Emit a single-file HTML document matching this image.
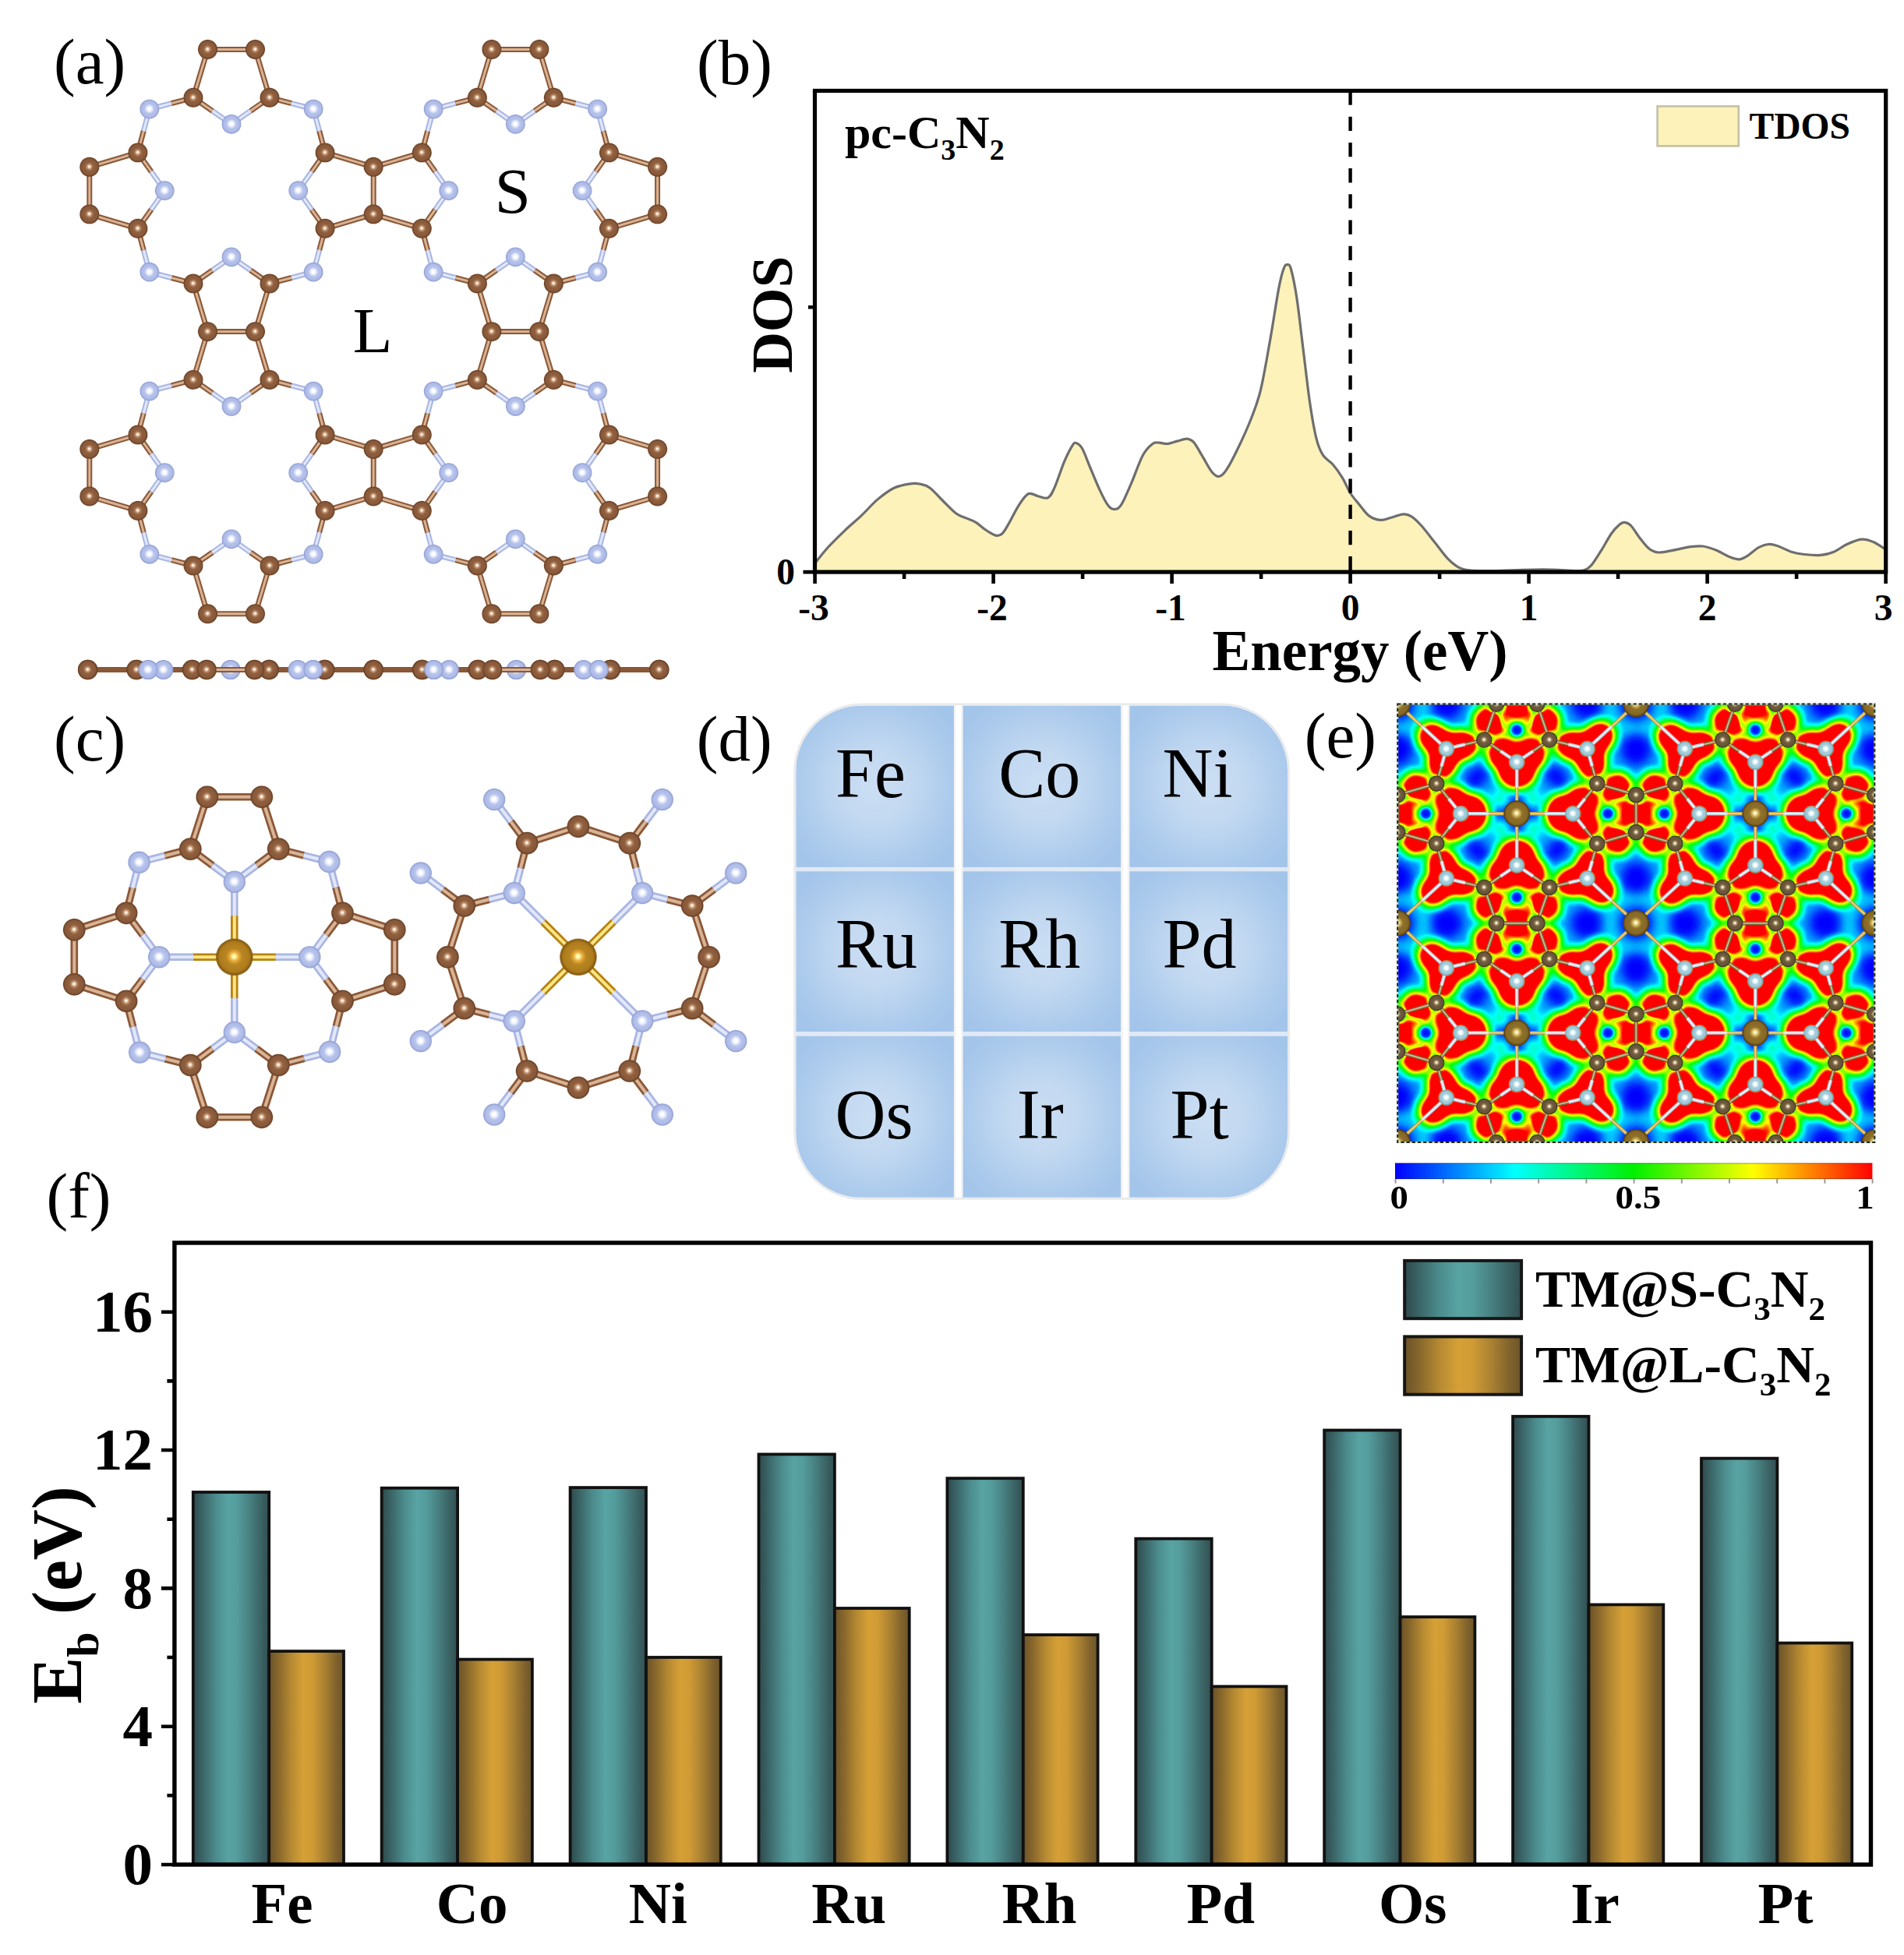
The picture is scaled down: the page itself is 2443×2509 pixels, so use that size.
<!DOCTYPE html>
<html><head><meta charset="utf-8"><title>Figure</title>
<style>html,body{margin:0;padding:0;background:#fff}svg{display:block}text{font-family:"Liberation Serif", "DejaVu Serif", serif}</style>
</head><body>
<svg width="2443" height="2509" viewBox="0 0 2443 2509">
<defs>
<radialGradient id="sC" cx="0.5" cy="0.5" r="0.5" fx="0.49" fy="0.48"><stop offset="0" stop-color="#fff2e4"/><stop offset="0.07" stop-color="#fff2e4"/><stop offset="0.24000000000000002" stop-color="#bd8e6a"/><stop offset="0.43" stop-color="#90603f"/><stop offset="0.8" stop-color="#87583a"/><stop offset="0.94" stop-color="#6c4226"/><stop offset="1" stop-color="#6c4226" stop-opacity="0.5"/></radialGradient>
<radialGradient id="sN" cx="0.5" cy="0.5" r="0.5" fx="0.49" fy="0.48"><stop offset="0" stop-color="#ffffff"/><stop offset="0.13" stop-color="#ffffff"/><stop offset="0.30000000000000004" stop-color="#e3e9fa"/><stop offset="0.49" stop-color="#b7c3eb"/><stop offset="0.8" stop-color="#aebbe7"/><stop offset="0.94" stop-color="#94a2d6"/><stop offset="1" stop-color="#94a2d6" stop-opacity="0.5"/></radialGradient>
<radialGradient id="sM" cx="0.5" cy="0.5" r="0.5" fx="0.49" fy="0.48"><stop offset="0" stop-color="#ffffb4"/><stop offset="0.07" stop-color="#ffffb4"/><stop offset="0.24000000000000002" stop-color="#eaac3c"/><stop offset="0.43" stop-color="#b98622"/><stop offset="0.8" stop-color="#ad7b1c"/><stop offset="0.94" stop-color="#855a10"/><stop offset="1" stop-color="#855a10" stop-opacity="0.5"/></radialGradient>
<radialGradient id="sC2" cx="0.5" cy="0.5" r="0.5" fx="0.49" fy="0.48"><stop offset="0" stop-color="#fff6dc"/><stop offset="0.07" stop-color="#fff6dc"/><stop offset="0.24000000000000002" stop-color="#a8926a"/><stop offset="0.43" stop-color="#6f5b3d"/><stop offset="0.8" stop-color="#66533a"/><stop offset="0.94" stop-color="#453623"/><stop offset="1" stop-color="#453623" stop-opacity="0.5"/></radialGradient>
<radialGradient id="sN2" cx="0.5" cy="0.5" r="0.5" fx="0.49" fy="0.48"><stop offset="0" stop-color="#ffffff"/><stop offset="0.13" stop-color="#ffffff"/><stop offset="0.30000000000000004" stop-color="#dcf0f5"/><stop offset="0.49" stop-color="#a6cfdc"/><stop offset="0.8" stop-color="#9cc6d4"/><stop offset="0.94" stop-color="#6a9aae"/><stop offset="1" stop-color="#6a9aae" stop-opacity="0.5"/></radialGradient>
<radialGradient id="sM2" cx="0.5" cy="0.5" r="0.5" fx="0.49" fy="0.48"><stop offset="0" stop-color="#fff8c8"/><stop offset="0.07" stop-color="#fff8c8"/><stop offset="0.24000000000000002" stop-color="#ceb058"/><stop offset="0.43" stop-color="#8e702a"/><stop offset="0.8" stop-color="#856826"/><stop offset="0.94" stop-color="#584212"/><stop offset="1" stop-color="#584212" stop-opacity="0.5"/></radialGradient>
<radialGradient id="cell" cx="0.5" cy="0.5" r="0.62"><stop offset="0" stop-color="#cbdef3"/><stop offset="0.35" stop-color="#c3d9f1"/><stop offset="0.8" stop-color="#abcaec"/><stop offset="1" stop-color="#a4c5ea"/></radialGradient><clipPath id="gclip"><rect x="1021.3" y="905.6" width="630.7" height="631.2" rx="84" ry="84"/></clipPath>
<filter id="jet" x="0" y="0" width="1" height="1" color-interpolation-filters="sRGB"><feComponentTransfer><feFuncR type="table" tableValues="0 0 0 0 0 0 0 0 0 0 0 0 0 0 0 0 0 0 0 0 0 0 0 0 0.072 0.143 0.215 0.287 0.359 0.43 0.502 0.564 0.626 0.689 0.751 0.813 0.875 0.938 1 1 1 1 1 1 1 1 1 1 1 1 1 1 1 1 1 1 1 1 1 1 1 1 1 1 1 1 1 1 1 1 1 1 1 1 1 1 1 1 1 1 1 1 1 1 1 1 1 1 1 1 1 1 1 1 1 1 1 1 1 1 1"/><feFuncG type="table" tableValues="0 0.092 0.183 0.275 0.366 0.458 0.549 0.639 0.729 0.82 0.91 1 1 1 1 1 1 1 1 1 1 1 1 1 1 1 1 1 1 1 1 1 1 1 1 1 1 1 1 0.929 0.858 0.787 0.715 0.644 0.573 0.502 0.43 0.359 0.287 0.215 0.143 0.072 0 0 0 0 0 0 0 0 0 0 0 0 0 0 0 0 0 0 0 0 0 0 0 0 0 0 0 0 0 0 0 0 0 0 0 0 0 0 0 0 0 0 0 0 0 0 0 0 0"/><feFuncB type="table" tableValues="1 1 1 1 1 1 1 1 1 1 1 1 0.909 0.819 0.728 0.638 0.547 0.463 0.386 0.309 0.232 0.154 0.077 0 0 0 0 0 0 0 0 0 0 0 0 0 0 0 0 0 0 0 0 0 0 0 0 0 0 0 0 0 0 0 0 0 0 0 0 0 0 0 0 0 0 0 0 0 0 0 0 0 0 0 0 0 0 0 0 0 0 0 0 0 0 0 0 0 0 0 0 0 0 0 0 0 0 0 0 0 0"/></feComponentTransfer></filter><filter id="bl1" x="-0.1" y="-0.1" width="1.2" height="1.2" color-interpolation-filters="sRGB"><feGaussianBlur stdDeviation="7.5"/></filter><filter id="bl3" x="-0.1" y="-0.1" width="1.2" height="1.2" color-interpolation-filters="sRGB"><feGaussianBlur stdDeviation="2.2"/></filter><filter id="bl2" x="-0.1" y="-0.1" width="1.2" height="1.2" color-interpolation-filters="sRGB"><feGaussianBlur stdDeviation="6.5"/></filter><clipPath id="mclip"><rect x="1793.2" y="903.5" width="612.1" height="562.6"/></clipPath><linearGradient id="cbar" x1="0" x2="1" y1="0" y2="0"><stop offset="0" stop-color="#0000ff"/><stop offset="0.25" stop-color="#00ffff"/><stop offset="0.5" stop-color="#00f000"/><stop offset="0.75" stop-color="#ffff00"/><stop offset="1" stop-color="#ff0000"/></linearGradient>
<g id="eblob" fill="#fff"><polygon points="-26.1,-140.6 26.1,-140.6 41.9,-94.7 0,-66.2 -41.9,-94.7" fill="#6e6e6e"/><polygon points="153,-24 153,24 103,38.5 72,0 103,-38.5" fill="#6e6e6e"/><polygon points="26.1,140.6 -26.1,140.6 -41.9,94.7 0,66.2 41.9,94.7" fill="#6e6e6e"/><polygon points="-153,24 -153,-24 -103,-38.5 -72,0 -103,38.5" fill="#6e6e6e"/><circle cx="0" cy="-107.4" r="11.5" fill="#000"/><circle cx="-26.1" cy="-140.6" r="15" fill="#626262"/><circle cx="26.1" cy="-140.6" r="15" fill="#626262"/><circle cx="41.9" cy="-94.7" r="15" fill="#626262"/><circle cx="0" cy="-66.2" r="15" fill="#626262"/><circle cx="-41.9" cy="-94.7" r="15" fill="#626262"/><circle cx="90.4" cy="-83.1" r="15" fill="#626262"/><circle cx="116.8" cy="0" r="11.5" fill="#000"/><circle cx="153" cy="-24" r="15" fill="#626262"/><circle cx="153" cy="24" r="15" fill="#626262"/><circle cx="103" cy="38.5" r="15" fill="#626262"/><circle cx="72" cy="0" r="15" fill="#626262"/><circle cx="103" cy="-38.5" r="15" fill="#626262"/><circle cx="90.4" cy="83.1" r="15" fill="#626262"/><circle cx="0" cy="107.4" r="11.5" fill="#000"/><circle cx="26.1" cy="140.6" r="15" fill="#626262"/><circle cx="-26.1" cy="140.6" r="15" fill="#626262"/><circle cx="-41.9" cy="94.7" r="15" fill="#626262"/><circle cx="0" cy="66.2" r="15" fill="#626262"/><circle cx="41.9" cy="94.7" r="15" fill="#626262"/><circle cx="-90.4" cy="83.1" r="15" fill="#626262"/><circle cx="-116.8" cy="0" r="11.5" fill="#000"/><circle cx="-153" cy="24" r="15" fill="#626262"/><circle cx="-153" cy="-24" r="15" fill="#626262"/><circle cx="-103" cy="-38.5" r="15" fill="#626262"/><circle cx="-72" cy="0" r="15" fill="#626262"/><circle cx="-103" cy="38.5" r="15" fill="#626262"/><circle cx="-90.4" cy="-83.1" r="15" fill="#626262"/><ellipse cx="0" cy="-140.6" rx="9.5" ry="15.5"/><ellipse rx="13.5" ry="16.5" transform="translate(36.4 -118.5) rotate(71)"/><ellipse rx="11.5" ry="16" transform="translate(21 -76.8) rotate(145.8)"/><ellipse rx="12.5" ry="16" transform="translate(67.6 -88.5) rotate(13.4)"/><ellipse rx="13.5" ry="16.5" transform="translate(-36.4 -118.5) rotate(109)"/><ellipse rx="11.5" ry="16" transform="translate(-21 -76.8) rotate(34.2)"/><ellipse rx="12.5" ry="16" transform="translate(-67.6 -88.5) rotate(166.6)"/><ellipse cx="0" cy="-66.2" rx="20" ry="20"/><ellipse cx="0" cy="-54.2" rx="22" ry="19"/><ellipse cx="90.4" cy="-83.1" rx="20" ry="20"/><ellipse rx="17.5" ry="15.5" transform="translate(106 -98.7) rotate(135)"/><ellipse rx="9.5" ry="15.5" transform="translate(153 0) rotate(90)"/><ellipse rx="13.5" ry="16.5" transform="translate(128.9 33.4) rotate(161)"/><ellipse rx="11.5" ry="16" transform="translate(83.6 19.3) rotate(55.8)"/><ellipse rx="12.5" ry="16" transform="translate(96.3 62.2) rotate(103.4)"/><ellipse rx="13.5" ry="16.5" transform="translate(128.9 -33.4) rotate(19)"/><ellipse rx="11.5" ry="16" transform="translate(83.6 -19.3) rotate(124.2)"/><ellipse rx="12.5" ry="16" transform="translate(96.3 -62.2) rotate(76.6)"/><ellipse cx="72" cy="0" rx="20" ry="20"/><ellipse rx="22" ry="19" transform="translate(59 0) rotate(90)"/><ellipse cx="90.4" cy="83.1" rx="20" ry="20"/><ellipse rx="17.5" ry="15.5" transform="translate(107.4 97.4) rotate(45)"/><ellipse cx="0" cy="140.6" rx="9.5" ry="15.5"/><ellipse rx="13.5" ry="16.5" transform="translate(-36.4 118.5) rotate(71)"/><ellipse rx="11.5" ry="16" transform="translate(-21 76.8) rotate(145.8)"/><ellipse rx="12.5" ry="16" transform="translate(-67.6 88.5) rotate(13.4)"/><ellipse rx="13.5" ry="16.5" transform="translate(36.4 118.5) rotate(109)"/><ellipse rx="11.5" ry="16" transform="translate(21 76.8) rotate(34.2)"/><ellipse rx="12.5" ry="16" transform="translate(67.6 88.5) rotate(166.6)"/><ellipse cx="0" cy="66.2" rx="20" ry="20"/><ellipse cx="0" cy="54.2" rx="22" ry="19"/><ellipse cx="-90.4" cy="83.1" rx="20" ry="20"/><ellipse rx="17.5" ry="15.5" transform="translate(-106 98.7) rotate(135)"/><ellipse rx="9.5" ry="15.5" transform="translate(-153 0) rotate(90)"/><ellipse rx="13.5" ry="16.5" transform="translate(-128.9 -33.4) rotate(161)"/><ellipse rx="11.5" ry="16" transform="translate(-83.6 -19.3) rotate(55.8)"/><ellipse rx="12.5" ry="16" transform="translate(-96.3 -62.2) rotate(103.4)"/><ellipse rx="13.5" ry="16.5" transform="translate(-128.9 33.4) rotate(19)"/><ellipse rx="11.5" ry="16" transform="translate(-83.6 19.3) rotate(124.2)"/><ellipse rx="12.5" ry="16" transform="translate(-96.3 62.2) rotate(76.6)"/><ellipse cx="-72" cy="0" rx="20" ry="20"/><ellipse rx="22" ry="19" transform="translate(-59 0) rotate(90)"/><ellipse cx="-90.4" cy="-83.1" rx="20" ry="20"/><ellipse rx="17.5" ry="15.5" transform="translate(-107.4 -97.4) rotate(45)"/></g>
<g id="ecut"><path d="M41.9 -94.7L51.7 -66.3M41.9 -94.7L66.7 -111.5M41.9 -94.7L12.7 -101.6M-41.9 -94.7L-51.7 -66.3M-41.9 -94.7L-66.7 -111.5M-41.9 -94.7L-12.7 -101.6M26.1 -140.6L56.1 -140.6M26.1 -140.6L16.3 -169M26.1 -140.6L16.3 -112.3M-26.1 -140.6L-56.1 -140.6M-26.1 -140.6L-16.3 -169M-26.1 -140.6L-16.3 -112.3M103 38.5L72.1 47.5M103 38.5L121.3 61.4M103 38.5L110.5 11.7M103 -38.5L72.1 -47.5M103 -38.5L121.3 -61.4M103 -38.5L110.5 -11.7M153 24L153 51.5M153 24L183.9 15M153 24L122.2 15M153 -24L153 -51.5M153 -24L183.9 -15M153 -24L122.2 -15M-41.9 94.7L-51.7 66.3M-41.9 94.7L-66.7 111.5M-41.9 94.7L-12.7 101.6M41.9 94.7L51.7 66.3M41.9 94.7L66.7 111.5M41.9 94.7L12.7 101.6M-26.1 140.6L-56.1 140.6M-26.1 140.6L-16.3 169M-26.1 140.6L-16.3 112.3M26.1 140.6L56.1 140.6M26.1 140.6L16.3 169M26.1 140.6L16.3 112.3M-103 -38.5L-72.1 -47.5M-103 -38.5L-121.3 -61.4M-103 -38.5L-110.5 -11.7M-103 38.5L-72.1 47.5M-103 38.5L-121.3 61.4M-103 38.5L-110.5 11.7M-153 -24L-153 -51.5M-153 -24L-183.9 -15M-153 -24L-122.2 -15M-153 24L-153 51.5M-153 24L-183.9 15M-153 24L-122.2 15" stroke="#000" stroke-opacity="0.62" stroke-width="5.5" stroke-linecap="round" fill="none"/><circle cx="41.9" cy="-94.7" r="13" fill="#000" fill-opacity="0.6"/><circle cx="-41.9" cy="-94.7" r="13" fill="#000" fill-opacity="0.6"/><circle cx="26.1" cy="-140.6" r="13" fill="#000" fill-opacity="0.6"/><circle cx="-26.1" cy="-140.6" r="13" fill="#000" fill-opacity="0.6"/><circle cx="0" cy="-66.2" r="13" fill="#000" fill-opacity="0.6"/><circle cx="90.4" cy="-83.1" r="13" fill="#000" fill-opacity="0.6"/><circle cx="103" cy="38.5" r="13" fill="#000" fill-opacity="0.6"/><circle cx="103" cy="-38.5" r="13" fill="#000" fill-opacity="0.6"/><circle cx="153" cy="24" r="13" fill="#000" fill-opacity="0.6"/><circle cx="153" cy="-24" r="13" fill="#000" fill-opacity="0.6"/><circle cx="72" cy="0" r="13" fill="#000" fill-opacity="0.6"/><circle cx="90.4" cy="83.1" r="13" fill="#000" fill-opacity="0.6"/><circle cx="-41.9" cy="94.7" r="13" fill="#000" fill-opacity="0.6"/><circle cx="41.9" cy="94.7" r="13" fill="#000" fill-opacity="0.6"/><circle cx="-26.1" cy="140.6" r="13" fill="#000" fill-opacity="0.6"/><circle cx="26.1" cy="140.6" r="13" fill="#000" fill-opacity="0.6"/><circle cx="0" cy="66.2" r="13" fill="#000" fill-opacity="0.6"/><circle cx="-90.4" cy="83.1" r="13" fill="#000" fill-opacity="0.6"/><circle cx="-103" cy="-38.5" r="13" fill="#000" fill-opacity="0.6"/><circle cx="-103" cy="38.5" r="13" fill="#000" fill-opacity="0.6"/><circle cx="-153" cy="-24" r="13" fill="#000" fill-opacity="0.6"/><circle cx="-153" cy="24" r="13" fill="#000" fill-opacity="0.6"/><circle cx="-72" cy="0" r="13" fill="#000" fill-opacity="0.6"/><circle cx="-90.4" cy="-83.1" r="13" fill="#000" fill-opacity="0.6"/></g>
<g id="ectr"><circle cx="0" cy="-107.4" r="8" fill="#000" fill-opacity="0.92"/><circle cx="116.8" cy="0" r="8" fill="#000" fill-opacity="0.92"/><circle cx="0" cy="107.4" r="8" fill="#000" fill-opacity="0.92"/><circle cx="-116.8" cy="0" r="8" fill="#000" fill-opacity="0.92"/></g>
<g id="edif"><circle cx="21" cy="-20" r="9.5" fill="#2a2a2a"/><circle cx="21.8" cy="19.3" r="9.5" fill="#2a2a2a"/><circle cx="-21" cy="20" r="9.5" fill="#2a2a2a"/><circle cx="-21.8" cy="-19.3" r="9.5" fill="#2a2a2a"/><circle r="15" fill="#000"/><rect x="-27" y="-6" width="54" height="12" fill="#000"/><rect x="-6" y="-26" width="12" height="52" fill="#000"/><ellipse rx="17" ry="12" transform="translate(50.5 -47.5) rotate(45)" fill="#000"/><ellipse rx="17" ry="12" transform="translate(51.7 46.4) rotate(135)" fill="#000"/><ellipse rx="17" ry="12" transform="translate(-50.5 47.5) rotate(225)" fill="#000"/><ellipse rx="17" ry="12" transform="translate(-51.7 -46.4) rotate(315)" fill="#000"/><circle cx="153" cy="140.6" r="36" fill="none" stroke="#181818" stroke-width="15"/><circle cx="153" cy="140.6" r="21" fill="#000"/><ellipse cx="216" cy="140.6" rx="21" ry="20" fill="#000"/><ellipse cx="153" cy="198.6" rx="20" ry="21" fill="#000"/><ellipse cx="90" cy="140.6" rx="21" ry="20" fill="#000"/><ellipse cx="153" cy="82.7" rx="20" ry="21" fill="#000"/></g>
<g id="eatom"><g stroke-linecap="butt" fill="none"><path d="M0 -66.2L-21 -80.4" stroke="#b8c4cc" stroke-width="4.6"/><path d="M0 -66.2L-21 -80.4" stroke="#f0f4f6" stroke-width="1.9"/><path d="M-21 -80.4L-41.9 -94.7" stroke="#7a6238" stroke-width="4.6"/><path d="M-21 -80.4L-41.9 -94.7" stroke="#cdb98a" stroke-width="1.9"/><path d="M0 -66.2L21 -80.4" stroke="#b8c4cc" stroke-width="4.6"/><path d="M0 -66.2L21 -80.4" stroke="#f0f4f6" stroke-width="1.9"/><path d="M21 -80.4L41.9 -94.7" stroke="#7a6238" stroke-width="4.6"/><path d="M21 -80.4L41.9 -94.7" stroke="#cdb98a" stroke-width="1.9"/><path d="M-41.9 -94.7L-26.1 -140.6" stroke="#7a6238" stroke-width="4.6"/><path d="M-41.9 -94.7L-26.1 -140.6" stroke="#cdb98a" stroke-width="1.9"/><path d="M41.9 -94.7L26.1 -140.6" stroke="#7a6238" stroke-width="4.6"/><path d="M41.9 -94.7L26.1 -140.6" stroke="#cdb98a" stroke-width="1.9"/><path d="M-26.1 -140.6L26.1 -140.6" stroke="#7a6238" stroke-width="4.6"/><path d="M-26.1 -140.6L26.1 -140.6" stroke="#cdb98a" stroke-width="1.9"/><path d="M41.9 -94.7L66.2 -88.9" stroke="#7a6238" stroke-width="4.6"/><path d="M41.9 -94.7L66.2 -88.9" stroke="#cdb98a" stroke-width="1.9"/><path d="M66.2 -88.9L90.4 -83.1" stroke="#b8c4cc" stroke-width="4.6"/><path d="M66.2 -88.9L90.4 -83.1" stroke="#f0f4f6" stroke-width="1.9"/><path d="M90.4 -83.1L96.7 -60.8" stroke="#b8c4cc" stroke-width="4.6"/><path d="M90.4 -83.1L96.7 -60.8" stroke="#f0f4f6" stroke-width="1.9"/><path d="M96.7 -60.8L103 -38.5" stroke="#7a6238" stroke-width="4.6"/><path d="M96.7 -60.8L103 -38.5" stroke="#cdb98a" stroke-width="1.9"/><path d="M72 0L87.5 -19.3" stroke="#b8c4cc" stroke-width="4.6"/><path d="M72 0L87.5 -19.3" stroke="#f0f4f6" stroke-width="1.9"/><path d="M87.5 -19.3L103 -38.5" stroke="#7a6238" stroke-width="4.6"/><path d="M87.5 -19.3L103 -38.5" stroke="#cdb98a" stroke-width="1.9"/><path d="M72 0L87.5 19.3" stroke="#b8c4cc" stroke-width="4.6"/><path d="M72 0L87.5 19.3" stroke="#f0f4f6" stroke-width="1.9"/><path d="M87.5 19.3L103 38.5" stroke="#7a6238" stroke-width="4.6"/><path d="M87.5 19.3L103 38.5" stroke="#cdb98a" stroke-width="1.9"/><path d="M103 -38.5L153 -24" stroke="#7a6238" stroke-width="4.6"/><path d="M103 -38.5L153 -24" stroke="#cdb98a" stroke-width="1.9"/><path d="M103 38.5L153 24" stroke="#7a6238" stroke-width="4.6"/><path d="M103 38.5L153 24" stroke="#cdb98a" stroke-width="1.9"/><path d="M153 -24L153 24" stroke="#7a6238" stroke-width="4.6"/><path d="M153 -24L153 24" stroke="#cdb98a" stroke-width="1.9"/><path d="M103 38.5L96.7 60.8" stroke="#7a6238" stroke-width="4.6"/><path d="M103 38.5L96.7 60.8" stroke="#cdb98a" stroke-width="1.9"/><path d="M96.7 60.8L90.4 83.1" stroke="#b8c4cc" stroke-width="4.6"/><path d="M96.7 60.8L90.4 83.1" stroke="#f0f4f6" stroke-width="1.9"/><path d="M90.4 83.1L66.2 88.9" stroke="#b8c4cc" stroke-width="4.6"/><path d="M90.4 83.1L66.2 88.9" stroke="#f0f4f6" stroke-width="1.9"/><path d="M66.2 88.9L41.9 94.7" stroke="#7a6238" stroke-width="4.6"/><path d="M66.2 88.9L41.9 94.7" stroke="#cdb98a" stroke-width="1.9"/><path d="M0 66.2L21 80.4" stroke="#b8c4cc" stroke-width="4.6"/><path d="M0 66.2L21 80.4" stroke="#f0f4f6" stroke-width="1.9"/><path d="M21 80.4L41.9 94.7" stroke="#7a6238" stroke-width="4.6"/><path d="M21 80.4L41.9 94.7" stroke="#cdb98a" stroke-width="1.9"/><path d="M0 66.2L-21 80.4" stroke="#b8c4cc" stroke-width="4.6"/><path d="M0 66.2L-21 80.4" stroke="#f0f4f6" stroke-width="1.9"/><path d="M-21 80.4L-41.9 94.7" stroke="#7a6238" stroke-width="4.6"/><path d="M-21 80.4L-41.9 94.7" stroke="#cdb98a" stroke-width="1.9"/><path d="M41.9 94.7L26.1 140.6" stroke="#7a6238" stroke-width="4.6"/><path d="M41.9 94.7L26.1 140.6" stroke="#cdb98a" stroke-width="1.9"/><path d="M-41.9 94.7L-26.1 140.6" stroke="#7a6238" stroke-width="4.6"/><path d="M-41.9 94.7L-26.1 140.6" stroke="#cdb98a" stroke-width="1.9"/><path d="M26.1 140.6L-26.1 140.6" stroke="#7a6238" stroke-width="4.6"/><path d="M26.1 140.6L-26.1 140.6" stroke="#cdb98a" stroke-width="1.9"/><path d="M-41.9 94.7L-66.2 88.9" stroke="#7a6238" stroke-width="4.6"/><path d="M-41.9 94.7L-66.2 88.9" stroke="#cdb98a" stroke-width="1.9"/><path d="M-66.2 88.9L-90.4 83.1" stroke="#b8c4cc" stroke-width="4.6"/><path d="M-66.2 88.9L-90.4 83.1" stroke="#f0f4f6" stroke-width="1.9"/><path d="M-90.4 83.1L-96.7 60.8" stroke="#b8c4cc" stroke-width="4.6"/><path d="M-90.4 83.1L-96.7 60.8" stroke="#f0f4f6" stroke-width="1.9"/><path d="M-96.7 60.8L-103 38.5" stroke="#7a6238" stroke-width="4.6"/><path d="M-96.7 60.8L-103 38.5" stroke="#cdb98a" stroke-width="1.9"/><path d="M-72 0L-87.5 19.3" stroke="#b8c4cc" stroke-width="4.6"/><path d="M-72 0L-87.5 19.3" stroke="#f0f4f6" stroke-width="1.9"/><path d="M-87.5 19.3L-103 38.5" stroke="#7a6238" stroke-width="4.6"/><path d="M-87.5 19.3L-103 38.5" stroke="#cdb98a" stroke-width="1.9"/><path d="M-72 0L-87.5 -19.3" stroke="#b8c4cc" stroke-width="4.6"/><path d="M-72 0L-87.5 -19.3" stroke="#f0f4f6" stroke-width="1.9"/><path d="M-87.5 -19.3L-103 -38.5" stroke="#7a6238" stroke-width="4.6"/><path d="M-87.5 -19.3L-103 -38.5" stroke="#cdb98a" stroke-width="1.9"/><path d="M-103 38.5L-153 24" stroke="#7a6238" stroke-width="4.6"/><path d="M-103 38.5L-153 24" stroke="#cdb98a" stroke-width="1.9"/><path d="M-103 -38.5L-153 -24" stroke="#7a6238" stroke-width="4.6"/><path d="M-103 -38.5L-153 -24" stroke="#cdb98a" stroke-width="1.9"/><path d="M-153 24L-153 -24" stroke="#7a6238" stroke-width="4.6"/><path d="M-153 24L-153 -24" stroke="#cdb98a" stroke-width="1.9"/><path d="M-103 -38.5L-96.7 -60.8" stroke="#7a6238" stroke-width="4.6"/><path d="M-103 -38.5L-96.7 -60.8" stroke="#cdb98a" stroke-width="1.9"/><path d="M-96.7 -60.8L-90.4 -83.1" stroke="#b8c4cc" stroke-width="4.6"/><path d="M-96.7 -60.8L-90.4 -83.1" stroke="#f0f4f6" stroke-width="1.9"/><path d="M-90.4 -83.1L-66.2 -88.9" stroke="#b8c4cc" stroke-width="4.6"/><path d="M-90.4 -83.1L-66.2 -88.9" stroke="#f0f4f6" stroke-width="1.9"/><path d="M-66.2 -88.9L-41.9 -94.7" stroke="#7a6238" stroke-width="4.6"/><path d="M-66.2 -88.9L-41.9 -94.7" stroke="#cdb98a" stroke-width="1.9"/><path d="M0 0L0 -33.1" stroke="#b89a3c" stroke-width="4.6"/><path d="M0 0L0 -33.1" stroke="#ecd884" stroke-width="1.9"/><path d="M0 -33.1L0 -66.2" stroke="#b8c4cc" stroke-width="4.6"/><path d="M0 -33.1L0 -66.2" stroke="#f0f4f6" stroke-width="1.9"/><path d="M153 -140.6L121.7 -111.9" stroke="#b89a3c" stroke-width="4.6"/><path d="M153 -140.6L121.7 -111.9" stroke="#ecd884" stroke-width="1.9"/><path d="M121.7 -111.9L90.4 -83.1" stroke="#b8c4cc" stroke-width="4.6"/><path d="M121.7 -111.9L90.4 -83.1" stroke="#f0f4f6" stroke-width="1.9"/><path d="M0 0L36 0" stroke="#b89a3c" stroke-width="4.6"/><path d="M0 0L36 0" stroke="#ecd884" stroke-width="1.9"/><path d="M36 0L72 0" stroke="#b8c4cc" stroke-width="4.6"/><path d="M36 0L72 0" stroke="#f0f4f6" stroke-width="1.9"/><path d="M153 140.6L121.7 111.9" stroke="#b89a3c" stroke-width="4.6"/><path d="M153 140.6L121.7 111.9" stroke="#ecd884" stroke-width="1.9"/><path d="M121.7 111.9L90.4 83.1" stroke="#b8c4cc" stroke-width="4.6"/><path d="M121.7 111.9L90.4 83.1" stroke="#f0f4f6" stroke-width="1.9"/><path d="M0 0L0 33.1" stroke="#b89a3c" stroke-width="4.6"/><path d="M0 0L0 33.1" stroke="#ecd884" stroke-width="1.9"/><path d="M0 33.1L0 66.2" stroke="#b8c4cc" stroke-width="4.6"/><path d="M0 33.1L0 66.2" stroke="#f0f4f6" stroke-width="1.9"/><path d="M-153 140.6L-121.7 111.9" stroke="#b89a3c" stroke-width="4.6"/><path d="M-153 140.6L-121.7 111.9" stroke="#ecd884" stroke-width="1.9"/><path d="M-121.7 111.9L-90.4 83.1" stroke="#b8c4cc" stroke-width="4.6"/><path d="M-121.7 111.9L-90.4 83.1" stroke="#f0f4f6" stroke-width="1.9"/><path d="M0 0L-36 0" stroke="#b89a3c" stroke-width="4.6"/><path d="M0 0L-36 0" stroke="#ecd884" stroke-width="1.9"/><path d="M-36 0L-72 0" stroke="#b8c4cc" stroke-width="4.6"/><path d="M-36 0L-72 0" stroke="#f0f4f6" stroke-width="1.9"/><path d="M-153 -140.6L-121.7 -111.9" stroke="#b89a3c" stroke-width="4.6"/><path d="M-153 -140.6L-121.7 -111.9" stroke="#ecd884" stroke-width="1.9"/><path d="M-121.7 -111.9L-90.4 -83.1" stroke="#b8c4cc" stroke-width="4.6"/><path d="M-121.7 -111.9L-90.4 -83.1" stroke="#f0f4f6" stroke-width="1.9"/></g><circle cx="0" cy="-66.2" r="10" fill="url(#sN2)"/><circle cx="-41.9" cy="-94.7" r="10.4" fill="url(#sC2)"/><circle cx="41.9" cy="-94.7" r="10.4" fill="url(#sC2)"/><circle cx="-26.1" cy="-140.6" r="10.4" fill="url(#sC2)"/><circle cx="26.1" cy="-140.6" r="10.4" fill="url(#sC2)"/><circle cx="90.4" cy="-83.1" r="10" fill="url(#sN2)"/><circle cx="72" cy="0" r="10" fill="url(#sN2)"/><circle cx="103" cy="-38.5" r="10.4" fill="url(#sC2)"/><circle cx="103" cy="38.5" r="10.4" fill="url(#sC2)"/><circle cx="153" cy="-24" r="10.4" fill="url(#sC2)"/><circle cx="153" cy="24" r="10.4" fill="url(#sC2)"/><circle cx="90.4" cy="83.1" r="10" fill="url(#sN2)"/><circle cx="0" cy="66.2" r="10" fill="url(#sN2)"/><circle cx="41.9" cy="94.7" r="10.4" fill="url(#sC2)"/><circle cx="-41.9" cy="94.7" r="10.4" fill="url(#sC2)"/><circle cx="26.1" cy="140.6" r="10.4" fill="url(#sC2)"/><circle cx="-26.1" cy="140.6" r="10.4" fill="url(#sC2)"/><circle cx="-90.4" cy="83.1" r="10" fill="url(#sN2)"/><circle cx="-72" cy="0" r="10" fill="url(#sN2)"/><circle cx="-103" cy="38.5" r="10.4" fill="url(#sC2)"/><circle cx="-103" cy="-38.5" r="10.4" fill="url(#sC2)"/><circle cx="-153" cy="24" r="10.4" fill="url(#sC2)"/><circle cx="-153" cy="-24" r="10.4" fill="url(#sC2)"/><circle cx="-90.4" cy="-83.1" r="10" fill="url(#sN2)"/><circle cx="0" cy="0" r="17.2" fill="url(#sM2)"/></g>
<g id="eblobsall" filter="url(#bl1)"><use href="#eblob" x="1640.2" y="762.9"/><use href="#eblob" x="1640.2" y="1044.2"/><use href="#eblob" x="1640.2" y="1325.5"/><use href="#eblob" x="1946.2" y="762.9"/><use href="#eblob" x="1946.2" y="1044.2"/><use href="#eblob" x="1946.2" y="1325.5"/><use href="#eblob" x="2252.3" y="762.9"/><use href="#eblob" x="2252.3" y="1044.2"/><use href="#eblob" x="2252.3" y="1325.5"/></g><mask id="emask" maskUnits="userSpaceOnUse" x="1753.2" y="863.5" width="692.1" height="642.6"><use href="#eblobsall"/></mask>
<linearGradient id="gt" x1="0" x2="1" y1="0" y2="0"><stop offset="0" stop-color="#2f4a4c"/><stop offset="0.12" stop-color="#3a6466"/><stop offset="0.3" stop-color="#4c8c8d"/><stop offset="0.46" stop-color="#58a3a3"/><stop offset="0.58" stop-color="#559d9d"/><stop offset="0.75" stop-color="#477f80"/><stop offset="0.9" stop-color="#3a6163"/><stop offset="1" stop-color="#324f51"/></linearGradient><linearGradient id="gg" x1="0" x2="1" y1="0" y2="0"><stop offset="0" stop-color="#6a5228"/><stop offset="0.12" stop-color="#86662c"/><stop offset="0.3" stop-color="#b68a32"/><stop offset="0.46" stop-color="#d6a036"/><stop offset="0.58" stop-color="#d09b35"/><stop offset="0.75" stop-color="#a88031"/><stop offset="0.9" stop-color="#80622c"/><stop offset="1" stop-color="#6c5429"/></linearGradient>
</defs>
<rect width="2443" height="2509" fill="#fff"/>
<g id="pa">
<g stroke-linecap="butt" fill="none">
<path d="M297 159.4L272.5 142.3" stroke="#a9b6e2" stroke-width="7"/><path d="M297 159.4L272.5 142.3" stroke="#e2e8fa" stroke-width="2.9"/><path d="M272.5 142.3L248 125.3" stroke="#8a5838" stroke-width="7"/><path d="M272.5 142.3L248 125.3" stroke="#d9b495" stroke-width="2.9"/>
<path d="M297 159.4L321.5 142.3" stroke="#a9b6e2" stroke-width="7"/><path d="M297 159.4L321.5 142.3" stroke="#e2e8fa" stroke-width="2.9"/><path d="M321.5 142.3L346 125.3" stroke="#8a5838" stroke-width="7"/><path d="M321.5 142.3L346 125.3" stroke="#d9b495" stroke-width="2.9"/>
<path d="M248 125.3L266.5 63.5" stroke="#8a5838" stroke-width="7"/><path d="M248 125.3L266.5 63.5" stroke="#d9b495" stroke-width="2.9"/>
<path d="M346 125.3L327.5 63.5" stroke="#8a5838" stroke-width="7"/><path d="M346 125.3L327.5 63.5" stroke="#d9b495" stroke-width="2.9"/>
<path d="M266.5 63.5L327.5 63.5" stroke="#8a5838" stroke-width="7"/><path d="M266.5 63.5L327.5 63.5" stroke="#d9b495" stroke-width="2.9"/>
<path d="M346 125.3L374.1 132.7" stroke="#8a5838" stroke-width="7"/><path d="M346 125.3L374.1 132.7" stroke="#d9b495" stroke-width="2.9"/><path d="M374.1 132.7L402.2 140" stroke="#a9b6e2" stroke-width="7"/><path d="M374.1 132.7L402.2 140" stroke="#e2e8fa" stroke-width="2.9"/>
<path d="M402.2 140L409.7 168" stroke="#a9b6e2" stroke-width="7"/><path d="M402.2 140L409.7 168" stroke="#e2e8fa" stroke-width="2.9"/><path d="M409.7 168L417.1 195.9" stroke="#8a5838" stroke-width="7"/><path d="M409.7 168L417.1 195.9" stroke="#d9b495" stroke-width="2.9"/>
<path d="M382.7 244.6L399.9 220.3" stroke="#a9b6e2" stroke-width="7"/><path d="M382.7 244.6L399.9 220.3" stroke="#e2e8fa" stroke-width="2.9"/><path d="M399.9 220.3L417.1 195.9" stroke="#8a5838" stroke-width="7"/><path d="M399.9 220.3L417.1 195.9" stroke="#d9b495" stroke-width="2.9"/>
<path d="M382.7 244.6L399.9 268.9" stroke="#a9b6e2" stroke-width="7"/><path d="M382.7 244.6L399.9 268.9" stroke="#e2e8fa" stroke-width="2.9"/><path d="M399.9 268.9L417.1 293.3" stroke="#8a5838" stroke-width="7"/><path d="M399.9 268.9L417.1 293.3" stroke="#d9b495" stroke-width="2.9"/>
<path d="M417.1 195.9L479.2 214.3" stroke="#8a5838" stroke-width="7"/><path d="M417.1 195.9L479.2 214.3" stroke="#d9b495" stroke-width="2.9"/>
<path d="M417.1 293.3L479.2 274.9" stroke="#8a5838" stroke-width="7"/><path d="M417.1 293.3L479.2 274.9" stroke="#d9b495" stroke-width="2.9"/>
<path d="M479.2 214.3L479.2 274.9" stroke="#8a5838" stroke-width="7"/><path d="M479.2 214.3L479.2 274.9" stroke="#d9b495" stroke-width="2.9"/>
<path d="M417.1 293.3L409.7 321.2" stroke="#8a5838" stroke-width="7"/><path d="M417.1 293.3L409.7 321.2" stroke="#d9b495" stroke-width="2.9"/><path d="M409.7 321.2L402.2 349.2" stroke="#a9b6e2" stroke-width="7"/><path d="M409.7 321.2L402.2 349.2" stroke="#e2e8fa" stroke-width="2.9"/>
<path d="M402.2 349.2L374.1 356.5" stroke="#a9b6e2" stroke-width="7"/><path d="M402.2 349.2L374.1 356.5" stroke="#e2e8fa" stroke-width="2.9"/><path d="M374.1 356.5L346 363.9" stroke="#8a5838" stroke-width="7"/><path d="M374.1 356.5L346 363.9" stroke="#d9b495" stroke-width="2.9"/>
<path d="M297 329.8L321.5 346.9" stroke="#a9b6e2" stroke-width="7"/><path d="M297 329.8L321.5 346.9" stroke="#e2e8fa" stroke-width="2.9"/><path d="M321.5 346.9L346 363.9" stroke="#8a5838" stroke-width="7"/><path d="M321.5 346.9L346 363.9" stroke="#d9b495" stroke-width="2.9"/>
<path d="M297 329.8L272.5 346.9" stroke="#a9b6e2" stroke-width="7"/><path d="M297 329.8L272.5 346.9" stroke="#e2e8fa" stroke-width="2.9"/><path d="M272.5 346.9L248 363.9" stroke="#8a5838" stroke-width="7"/><path d="M272.5 346.9L248 363.9" stroke="#d9b495" stroke-width="2.9"/>
<path d="M346 363.9L327.5 425.6" stroke="#8a5838" stroke-width="7"/><path d="M346 363.9L327.5 425.6" stroke="#d9b495" stroke-width="2.9"/>
<path d="M248 363.9L266.5 425.6" stroke="#8a5838" stroke-width="7"/><path d="M248 363.9L266.5 425.6" stroke="#d9b495" stroke-width="2.9"/>
<path d="M327.5 425.6L266.5 425.6" stroke="#8a5838" stroke-width="7"/><path d="M327.5 425.6L266.5 425.6" stroke="#d9b495" stroke-width="2.9"/>
<path d="M248 363.9L219.9 356.5" stroke="#8a5838" stroke-width="7"/><path d="M248 363.9L219.9 356.5" stroke="#d9b495" stroke-width="2.9"/><path d="M219.9 356.5L191.8 349.2" stroke="#a9b6e2" stroke-width="7"/><path d="M219.9 356.5L191.8 349.2" stroke="#e2e8fa" stroke-width="2.9"/>
<path d="M191.8 349.2L184.3 321.2" stroke="#a9b6e2" stroke-width="7"/><path d="M191.8 349.2L184.3 321.2" stroke="#e2e8fa" stroke-width="2.9"/><path d="M184.3 321.2L176.9 293.3" stroke="#8a5838" stroke-width="7"/><path d="M184.3 321.2L176.9 293.3" stroke="#d9b495" stroke-width="2.9"/>
<path d="M211.3 244.6L194.1 268.9" stroke="#a9b6e2" stroke-width="7"/><path d="M211.3 244.6L194.1 268.9" stroke="#e2e8fa" stroke-width="2.9"/><path d="M194.1 268.9L176.9 293.3" stroke="#8a5838" stroke-width="7"/><path d="M194.1 268.9L176.9 293.3" stroke="#d9b495" stroke-width="2.9"/>
<path d="M211.3 244.6L194.1 220.3" stroke="#a9b6e2" stroke-width="7"/><path d="M211.3 244.6L194.1 220.3" stroke="#e2e8fa" stroke-width="2.9"/><path d="M194.1 220.3L176.9 195.9" stroke="#8a5838" stroke-width="7"/><path d="M194.1 220.3L176.9 195.9" stroke="#d9b495" stroke-width="2.9"/>
<path d="M176.9 293.3L114.8 274.9" stroke="#8a5838" stroke-width="7"/><path d="M176.9 293.3L114.8 274.9" stroke="#d9b495" stroke-width="2.9"/>
<path d="M176.9 195.9L114.8 214.3" stroke="#8a5838" stroke-width="7"/><path d="M176.9 195.9L114.8 214.3" stroke="#d9b495" stroke-width="2.9"/>
<path d="M114.8 274.9L114.8 214.3" stroke="#8a5838" stroke-width="7"/><path d="M114.8 274.9L114.8 214.3" stroke="#d9b495" stroke-width="2.9"/>
<path d="M176.9 195.9L184.3 168" stroke="#8a5838" stroke-width="7"/><path d="M176.9 195.9L184.3 168" stroke="#d9b495" stroke-width="2.9"/><path d="M184.3 168L191.8 140" stroke="#a9b6e2" stroke-width="7"/><path d="M184.3 168L191.8 140" stroke="#e2e8fa" stroke-width="2.9"/>
<path d="M191.8 140L219.9 132.7" stroke="#a9b6e2" stroke-width="7"/><path d="M191.8 140L219.9 132.7" stroke="#e2e8fa" stroke-width="2.9"/><path d="M219.9 132.7L248 125.3" stroke="#8a5838" stroke-width="7"/><path d="M219.9 132.7L248 125.3" stroke="#d9b495" stroke-width="2.9"/>
<path d="M297 521.5L272.5 504.4" stroke="#a9b6e2" stroke-width="7"/><path d="M297 521.5L272.5 504.4" stroke="#e2e8fa" stroke-width="2.9"/><path d="M272.5 504.4L248 487.4" stroke="#8a5838" stroke-width="7"/><path d="M272.5 504.4L248 487.4" stroke="#d9b495" stroke-width="2.9"/>
<path d="M297 521.5L321.5 504.4" stroke="#a9b6e2" stroke-width="7"/><path d="M297 521.5L321.5 504.4" stroke="#e2e8fa" stroke-width="2.9"/><path d="M321.5 504.4L346 487.4" stroke="#8a5838" stroke-width="7"/><path d="M321.5 504.4L346 487.4" stroke="#d9b495" stroke-width="2.9"/>
<path d="M248 487.4L266.5 425.7" stroke="#8a5838" stroke-width="7"/><path d="M248 487.4L266.5 425.7" stroke="#d9b495" stroke-width="2.9"/>
<path d="M346 487.4L327.5 425.7" stroke="#8a5838" stroke-width="7"/><path d="M346 487.4L327.5 425.7" stroke="#d9b495" stroke-width="2.9"/>
<path d="M346 487.4L374.1 494.8" stroke="#8a5838" stroke-width="7"/><path d="M346 487.4L374.1 494.8" stroke="#d9b495" stroke-width="2.9"/><path d="M374.1 494.8L402.2 502.1" stroke="#a9b6e2" stroke-width="7"/><path d="M374.1 494.8L402.2 502.1" stroke="#e2e8fa" stroke-width="2.9"/>
<path d="M402.2 502.1L409.7 530.1" stroke="#a9b6e2" stroke-width="7"/><path d="M402.2 502.1L409.7 530.1" stroke="#e2e8fa" stroke-width="2.9"/><path d="M409.7 530.1L417.1 558" stroke="#8a5838" stroke-width="7"/><path d="M409.7 530.1L417.1 558" stroke="#d9b495" stroke-width="2.9"/>
<path d="M382.7 606.7L399.9 582.4" stroke="#a9b6e2" stroke-width="7"/><path d="M382.7 606.7L399.9 582.4" stroke="#e2e8fa" stroke-width="2.9"/><path d="M399.9 582.4L417.1 558" stroke="#8a5838" stroke-width="7"/><path d="M399.9 582.4L417.1 558" stroke="#d9b495" stroke-width="2.9"/>
<path d="M382.7 606.7L399.9 631" stroke="#a9b6e2" stroke-width="7"/><path d="M382.7 606.7L399.9 631" stroke="#e2e8fa" stroke-width="2.9"/><path d="M399.9 631L417.1 655.4" stroke="#8a5838" stroke-width="7"/><path d="M399.9 631L417.1 655.4" stroke="#d9b495" stroke-width="2.9"/>
<path d="M417.1 558L479.2 576.4" stroke="#8a5838" stroke-width="7"/><path d="M417.1 558L479.2 576.4" stroke="#d9b495" stroke-width="2.9"/>
<path d="M417.1 655.4L479.2 637" stroke="#8a5838" stroke-width="7"/><path d="M417.1 655.4L479.2 637" stroke="#d9b495" stroke-width="2.9"/>
<path d="M479.2 576.4L479.2 637" stroke="#8a5838" stroke-width="7"/><path d="M479.2 576.4L479.2 637" stroke="#d9b495" stroke-width="2.9"/>
<path d="M417.1 655.4L409.7 683.3" stroke="#8a5838" stroke-width="7"/><path d="M417.1 655.4L409.7 683.3" stroke="#d9b495" stroke-width="2.9"/><path d="M409.7 683.3L402.2 711.3" stroke="#a9b6e2" stroke-width="7"/><path d="M409.7 683.3L402.2 711.3" stroke="#e2e8fa" stroke-width="2.9"/>
<path d="M402.2 711.3L374.1 718.6" stroke="#a9b6e2" stroke-width="7"/><path d="M402.2 711.3L374.1 718.6" stroke="#e2e8fa" stroke-width="2.9"/><path d="M374.1 718.6L346 726" stroke="#8a5838" stroke-width="7"/><path d="M374.1 718.6L346 726" stroke="#d9b495" stroke-width="2.9"/>
<path d="M297 691.9L321.5 709" stroke="#a9b6e2" stroke-width="7"/><path d="M297 691.9L321.5 709" stroke="#e2e8fa" stroke-width="2.9"/><path d="M321.5 709L346 726" stroke="#8a5838" stroke-width="7"/><path d="M321.5 709L346 726" stroke="#d9b495" stroke-width="2.9"/>
<path d="M297 691.9L272.5 709" stroke="#a9b6e2" stroke-width="7"/><path d="M297 691.9L272.5 709" stroke="#e2e8fa" stroke-width="2.9"/><path d="M272.5 709L248 726" stroke="#8a5838" stroke-width="7"/><path d="M272.5 709L248 726" stroke="#d9b495" stroke-width="2.9"/>
<path d="M346 726L327.5 787.8" stroke="#8a5838" stroke-width="7"/><path d="M346 726L327.5 787.8" stroke="#d9b495" stroke-width="2.9"/>
<path d="M248 726L266.5 787.8" stroke="#8a5838" stroke-width="7"/><path d="M248 726L266.5 787.8" stroke="#d9b495" stroke-width="2.9"/>
<path d="M327.5 787.8L266.5 787.8" stroke="#8a5838" stroke-width="7"/><path d="M327.5 787.8L266.5 787.8" stroke="#d9b495" stroke-width="2.9"/>
<path d="M248 726L219.9 718.6" stroke="#8a5838" stroke-width="7"/><path d="M248 726L219.9 718.6" stroke="#d9b495" stroke-width="2.9"/><path d="M219.9 718.6L191.8 711.3" stroke="#a9b6e2" stroke-width="7"/><path d="M219.9 718.6L191.8 711.3" stroke="#e2e8fa" stroke-width="2.9"/>
<path d="M191.8 711.3L184.3 683.3" stroke="#a9b6e2" stroke-width="7"/><path d="M191.8 711.3L184.3 683.3" stroke="#e2e8fa" stroke-width="2.9"/><path d="M184.3 683.3L176.9 655.4" stroke="#8a5838" stroke-width="7"/><path d="M184.3 683.3L176.9 655.4" stroke="#d9b495" stroke-width="2.9"/>
<path d="M211.3 606.7L194.1 631" stroke="#a9b6e2" stroke-width="7"/><path d="M211.3 606.7L194.1 631" stroke="#e2e8fa" stroke-width="2.9"/><path d="M194.1 631L176.9 655.4" stroke="#8a5838" stroke-width="7"/><path d="M194.1 631L176.9 655.4" stroke="#d9b495" stroke-width="2.9"/>
<path d="M211.3 606.7L194.1 582.4" stroke="#a9b6e2" stroke-width="7"/><path d="M211.3 606.7L194.1 582.4" stroke="#e2e8fa" stroke-width="2.9"/><path d="M194.1 582.4L176.9 558" stroke="#8a5838" stroke-width="7"/><path d="M194.1 582.4L176.9 558" stroke="#d9b495" stroke-width="2.9"/>
<path d="M176.9 655.4L114.8 637" stroke="#8a5838" stroke-width="7"/><path d="M176.9 655.4L114.8 637" stroke="#d9b495" stroke-width="2.9"/>
<path d="M176.9 558L114.8 576.4" stroke="#8a5838" stroke-width="7"/><path d="M176.9 558L114.8 576.4" stroke="#d9b495" stroke-width="2.9"/>
<path d="M114.8 637L114.8 576.4" stroke="#8a5838" stroke-width="7"/><path d="M114.8 637L114.8 576.4" stroke="#d9b495" stroke-width="2.9"/>
<path d="M176.9 558L184.3 530.1" stroke="#8a5838" stroke-width="7"/><path d="M176.9 558L184.3 530.1" stroke="#d9b495" stroke-width="2.9"/><path d="M184.3 530.1L191.8 502.1" stroke="#a9b6e2" stroke-width="7"/><path d="M184.3 530.1L191.8 502.1" stroke="#e2e8fa" stroke-width="2.9"/>
<path d="M191.8 502.1L219.9 494.8" stroke="#a9b6e2" stroke-width="7"/><path d="M191.8 502.1L219.9 494.8" stroke="#e2e8fa" stroke-width="2.9"/><path d="M219.9 494.8L248 487.4" stroke="#8a5838" stroke-width="7"/><path d="M219.9 494.8L248 487.4" stroke="#d9b495" stroke-width="2.9"/>
<path d="M661.4 159.4L636.9 142.3" stroke="#a9b6e2" stroke-width="7"/><path d="M661.4 159.4L636.9 142.3" stroke="#e2e8fa" stroke-width="2.9"/><path d="M636.9 142.3L612.4 125.3" stroke="#8a5838" stroke-width="7"/><path d="M636.9 142.3L612.4 125.3" stroke="#d9b495" stroke-width="2.9"/>
<path d="M661.4 159.4L685.9 142.3" stroke="#a9b6e2" stroke-width="7"/><path d="M661.4 159.4L685.9 142.3" stroke="#e2e8fa" stroke-width="2.9"/><path d="M685.9 142.3L710.4 125.3" stroke="#8a5838" stroke-width="7"/><path d="M685.9 142.3L710.4 125.3" stroke="#d9b495" stroke-width="2.9"/>
<path d="M612.4 125.3L630.9 63.5" stroke="#8a5838" stroke-width="7"/><path d="M612.4 125.3L630.9 63.5" stroke="#d9b495" stroke-width="2.9"/>
<path d="M710.4 125.3L691.9 63.5" stroke="#8a5838" stroke-width="7"/><path d="M710.4 125.3L691.9 63.5" stroke="#d9b495" stroke-width="2.9"/>
<path d="M630.9 63.5L691.9 63.5" stroke="#8a5838" stroke-width="7"/><path d="M630.9 63.5L691.9 63.5" stroke="#d9b495" stroke-width="2.9"/>
<path d="M710.4 125.3L738.5 132.7" stroke="#8a5838" stroke-width="7"/><path d="M710.4 125.3L738.5 132.7" stroke="#d9b495" stroke-width="2.9"/><path d="M738.5 132.7L766.6 140" stroke="#a9b6e2" stroke-width="7"/><path d="M738.5 132.7L766.6 140" stroke="#e2e8fa" stroke-width="2.9"/>
<path d="M766.6 140L774.1 168" stroke="#a9b6e2" stroke-width="7"/><path d="M766.6 140L774.1 168" stroke="#e2e8fa" stroke-width="2.9"/><path d="M774.1 168L781.5 195.9" stroke="#8a5838" stroke-width="7"/><path d="M774.1 168L781.5 195.9" stroke="#d9b495" stroke-width="2.9"/>
<path d="M747.1 244.6L764.3 220.3" stroke="#a9b6e2" stroke-width="7"/><path d="M747.1 244.6L764.3 220.3" stroke="#e2e8fa" stroke-width="2.9"/><path d="M764.3 220.3L781.5 195.9" stroke="#8a5838" stroke-width="7"/><path d="M764.3 220.3L781.5 195.9" stroke="#d9b495" stroke-width="2.9"/>
<path d="M747.1 244.6L764.3 268.9" stroke="#a9b6e2" stroke-width="7"/><path d="M747.1 244.6L764.3 268.9" stroke="#e2e8fa" stroke-width="2.9"/><path d="M764.3 268.9L781.5 293.3" stroke="#8a5838" stroke-width="7"/><path d="M764.3 268.9L781.5 293.3" stroke="#d9b495" stroke-width="2.9"/>
<path d="M781.5 195.9L843.6 214.3" stroke="#8a5838" stroke-width="7"/><path d="M781.5 195.9L843.6 214.3" stroke="#d9b495" stroke-width="2.9"/>
<path d="M781.5 293.3L843.6 274.9" stroke="#8a5838" stroke-width="7"/><path d="M781.5 293.3L843.6 274.9" stroke="#d9b495" stroke-width="2.9"/>
<path d="M843.6 214.3L843.6 274.9" stroke="#8a5838" stroke-width="7"/><path d="M843.6 214.3L843.6 274.9" stroke="#d9b495" stroke-width="2.9"/>
<path d="M781.5 293.3L774.1 321.2" stroke="#8a5838" stroke-width="7"/><path d="M781.5 293.3L774.1 321.2" stroke="#d9b495" stroke-width="2.9"/><path d="M774.1 321.2L766.6 349.2" stroke="#a9b6e2" stroke-width="7"/><path d="M774.1 321.2L766.6 349.2" stroke="#e2e8fa" stroke-width="2.9"/>
<path d="M766.6 349.2L738.5 356.5" stroke="#a9b6e2" stroke-width="7"/><path d="M766.6 349.2L738.5 356.5" stroke="#e2e8fa" stroke-width="2.9"/><path d="M738.5 356.5L710.4 363.9" stroke="#8a5838" stroke-width="7"/><path d="M738.5 356.5L710.4 363.9" stroke="#d9b495" stroke-width="2.9"/>
<path d="M661.4 329.8L685.9 346.9" stroke="#a9b6e2" stroke-width="7"/><path d="M661.4 329.8L685.9 346.9" stroke="#e2e8fa" stroke-width="2.9"/><path d="M685.9 346.9L710.4 363.9" stroke="#8a5838" stroke-width="7"/><path d="M685.9 346.9L710.4 363.9" stroke="#d9b495" stroke-width="2.9"/>
<path d="M661.4 329.8L636.9 346.9" stroke="#a9b6e2" stroke-width="7"/><path d="M661.4 329.8L636.9 346.9" stroke="#e2e8fa" stroke-width="2.9"/><path d="M636.9 346.9L612.4 363.9" stroke="#8a5838" stroke-width="7"/><path d="M636.9 346.9L612.4 363.9" stroke="#d9b495" stroke-width="2.9"/>
<path d="M710.4 363.9L691.9 425.6" stroke="#8a5838" stroke-width="7"/><path d="M710.4 363.9L691.9 425.6" stroke="#d9b495" stroke-width="2.9"/>
<path d="M612.4 363.9L630.9 425.6" stroke="#8a5838" stroke-width="7"/><path d="M612.4 363.9L630.9 425.6" stroke="#d9b495" stroke-width="2.9"/>
<path d="M691.9 425.6L630.9 425.6" stroke="#8a5838" stroke-width="7"/><path d="M691.9 425.6L630.9 425.6" stroke="#d9b495" stroke-width="2.9"/>
<path d="M612.4 363.9L584.3 356.5" stroke="#8a5838" stroke-width="7"/><path d="M612.4 363.9L584.3 356.5" stroke="#d9b495" stroke-width="2.9"/><path d="M584.3 356.5L556.2 349.2" stroke="#a9b6e2" stroke-width="7"/><path d="M584.3 356.5L556.2 349.2" stroke="#e2e8fa" stroke-width="2.9"/>
<path d="M556.2 349.2L548.7 321.2" stroke="#a9b6e2" stroke-width="7"/><path d="M556.2 349.2L548.7 321.2" stroke="#e2e8fa" stroke-width="2.9"/><path d="M548.7 321.2L541.3 293.3" stroke="#8a5838" stroke-width="7"/><path d="M548.7 321.2L541.3 293.3" stroke="#d9b495" stroke-width="2.9"/>
<path d="M575.7 244.6L558.5 268.9" stroke="#a9b6e2" stroke-width="7"/><path d="M575.7 244.6L558.5 268.9" stroke="#e2e8fa" stroke-width="2.9"/><path d="M558.5 268.9L541.3 293.3" stroke="#8a5838" stroke-width="7"/><path d="M558.5 268.9L541.3 293.3" stroke="#d9b495" stroke-width="2.9"/>
<path d="M575.7 244.6L558.5 220.3" stroke="#a9b6e2" stroke-width="7"/><path d="M575.7 244.6L558.5 220.3" stroke="#e2e8fa" stroke-width="2.9"/><path d="M558.5 220.3L541.3 195.9" stroke="#8a5838" stroke-width="7"/><path d="M558.5 220.3L541.3 195.9" stroke="#d9b495" stroke-width="2.9"/>
<path d="M541.3 293.3L479.2 274.9" stroke="#8a5838" stroke-width="7"/><path d="M541.3 293.3L479.2 274.9" stroke="#d9b495" stroke-width="2.9"/>
<path d="M541.3 195.9L479.2 214.3" stroke="#8a5838" stroke-width="7"/><path d="M541.3 195.9L479.2 214.3" stroke="#d9b495" stroke-width="2.9"/>
<path d="M541.3 195.9L548.7 168" stroke="#8a5838" stroke-width="7"/><path d="M541.3 195.9L548.7 168" stroke="#d9b495" stroke-width="2.9"/><path d="M548.7 168L556.2 140" stroke="#a9b6e2" stroke-width="7"/><path d="M548.7 168L556.2 140" stroke="#e2e8fa" stroke-width="2.9"/>
<path d="M556.2 140L584.3 132.7" stroke="#a9b6e2" stroke-width="7"/><path d="M556.2 140L584.3 132.7" stroke="#e2e8fa" stroke-width="2.9"/><path d="M584.3 132.7L612.4 125.3" stroke="#8a5838" stroke-width="7"/><path d="M584.3 132.7L612.4 125.3" stroke="#d9b495" stroke-width="2.9"/>
<path d="M661.4 521.5L636.9 504.4" stroke="#a9b6e2" stroke-width="7"/><path d="M661.4 521.5L636.9 504.4" stroke="#e2e8fa" stroke-width="2.9"/><path d="M636.9 504.4L612.4 487.4" stroke="#8a5838" stroke-width="7"/><path d="M636.9 504.4L612.4 487.4" stroke="#d9b495" stroke-width="2.9"/>
<path d="M661.4 521.5L685.9 504.4" stroke="#a9b6e2" stroke-width="7"/><path d="M661.4 521.5L685.9 504.4" stroke="#e2e8fa" stroke-width="2.9"/><path d="M685.9 504.4L710.4 487.4" stroke="#8a5838" stroke-width="7"/><path d="M685.9 504.4L710.4 487.4" stroke="#d9b495" stroke-width="2.9"/>
<path d="M612.4 487.4L630.9 425.7" stroke="#8a5838" stroke-width="7"/><path d="M612.4 487.4L630.9 425.7" stroke="#d9b495" stroke-width="2.9"/>
<path d="M710.4 487.4L691.9 425.7" stroke="#8a5838" stroke-width="7"/><path d="M710.4 487.4L691.9 425.7" stroke="#d9b495" stroke-width="2.9"/>
<path d="M710.4 487.4L738.5 494.8" stroke="#8a5838" stroke-width="7"/><path d="M710.4 487.4L738.5 494.8" stroke="#d9b495" stroke-width="2.9"/><path d="M738.5 494.8L766.6 502.1" stroke="#a9b6e2" stroke-width="7"/><path d="M738.5 494.8L766.6 502.1" stroke="#e2e8fa" stroke-width="2.9"/>
<path d="M766.6 502.1L774.1 530.1" stroke="#a9b6e2" stroke-width="7"/><path d="M766.6 502.1L774.1 530.1" stroke="#e2e8fa" stroke-width="2.9"/><path d="M774.1 530.1L781.5 558" stroke="#8a5838" stroke-width="7"/><path d="M774.1 530.1L781.5 558" stroke="#d9b495" stroke-width="2.9"/>
<path d="M747.1 606.7L764.3 582.4" stroke="#a9b6e2" stroke-width="7"/><path d="M747.1 606.7L764.3 582.4" stroke="#e2e8fa" stroke-width="2.9"/><path d="M764.3 582.4L781.5 558" stroke="#8a5838" stroke-width="7"/><path d="M764.3 582.4L781.5 558" stroke="#d9b495" stroke-width="2.9"/>
<path d="M747.1 606.7L764.3 631" stroke="#a9b6e2" stroke-width="7"/><path d="M747.1 606.7L764.3 631" stroke="#e2e8fa" stroke-width="2.9"/><path d="M764.3 631L781.5 655.4" stroke="#8a5838" stroke-width="7"/><path d="M764.3 631L781.5 655.4" stroke="#d9b495" stroke-width="2.9"/>
<path d="M781.5 558L843.6 576.4" stroke="#8a5838" stroke-width="7"/><path d="M781.5 558L843.6 576.4" stroke="#d9b495" stroke-width="2.9"/>
<path d="M781.5 655.4L843.6 637" stroke="#8a5838" stroke-width="7"/><path d="M781.5 655.4L843.6 637" stroke="#d9b495" stroke-width="2.9"/>
<path d="M843.6 576.4L843.6 637" stroke="#8a5838" stroke-width="7"/><path d="M843.6 576.4L843.6 637" stroke="#d9b495" stroke-width="2.9"/>
<path d="M781.5 655.4L774.1 683.3" stroke="#8a5838" stroke-width="7"/><path d="M781.5 655.4L774.1 683.3" stroke="#d9b495" stroke-width="2.9"/><path d="M774.1 683.3L766.6 711.3" stroke="#a9b6e2" stroke-width="7"/><path d="M774.1 683.3L766.6 711.3" stroke="#e2e8fa" stroke-width="2.9"/>
<path d="M766.6 711.3L738.5 718.6" stroke="#a9b6e2" stroke-width="7"/><path d="M766.6 711.3L738.5 718.6" stroke="#e2e8fa" stroke-width="2.9"/><path d="M738.5 718.6L710.4 726" stroke="#8a5838" stroke-width="7"/><path d="M738.5 718.6L710.4 726" stroke="#d9b495" stroke-width="2.9"/>
<path d="M661.4 691.9L685.9 709" stroke="#a9b6e2" stroke-width="7"/><path d="M661.4 691.9L685.9 709" stroke="#e2e8fa" stroke-width="2.9"/><path d="M685.9 709L710.4 726" stroke="#8a5838" stroke-width="7"/><path d="M685.9 709L710.4 726" stroke="#d9b495" stroke-width="2.9"/>
<path d="M661.4 691.9L636.9 709" stroke="#a9b6e2" stroke-width="7"/><path d="M661.4 691.9L636.9 709" stroke="#e2e8fa" stroke-width="2.9"/><path d="M636.9 709L612.4 726" stroke="#8a5838" stroke-width="7"/><path d="M636.9 709L612.4 726" stroke="#d9b495" stroke-width="2.9"/>
<path d="M710.4 726L691.9 787.8" stroke="#8a5838" stroke-width="7"/><path d="M710.4 726L691.9 787.8" stroke="#d9b495" stroke-width="2.9"/>
<path d="M612.4 726L630.9 787.8" stroke="#8a5838" stroke-width="7"/><path d="M612.4 726L630.9 787.8" stroke="#d9b495" stroke-width="2.9"/>
<path d="M691.9 787.8L630.9 787.8" stroke="#8a5838" stroke-width="7"/><path d="M691.9 787.8L630.9 787.8" stroke="#d9b495" stroke-width="2.9"/>
<path d="M612.4 726L584.3 718.6" stroke="#8a5838" stroke-width="7"/><path d="M612.4 726L584.3 718.6" stroke="#d9b495" stroke-width="2.9"/><path d="M584.3 718.6L556.2 711.3" stroke="#a9b6e2" stroke-width="7"/><path d="M584.3 718.6L556.2 711.3" stroke="#e2e8fa" stroke-width="2.9"/>
<path d="M556.2 711.3L548.7 683.3" stroke="#a9b6e2" stroke-width="7"/><path d="M556.2 711.3L548.7 683.3" stroke="#e2e8fa" stroke-width="2.9"/><path d="M548.7 683.3L541.3 655.4" stroke="#8a5838" stroke-width="7"/><path d="M548.7 683.3L541.3 655.4" stroke="#d9b495" stroke-width="2.9"/>
<path d="M575.7 606.7L558.5 631" stroke="#a9b6e2" stroke-width="7"/><path d="M575.7 606.7L558.5 631" stroke="#e2e8fa" stroke-width="2.9"/><path d="M558.5 631L541.3 655.4" stroke="#8a5838" stroke-width="7"/><path d="M558.5 631L541.3 655.4" stroke="#d9b495" stroke-width="2.9"/>
<path d="M575.7 606.7L558.5 582.4" stroke="#a9b6e2" stroke-width="7"/><path d="M575.7 606.7L558.5 582.4" stroke="#e2e8fa" stroke-width="2.9"/><path d="M558.5 582.4L541.3 558" stroke="#8a5838" stroke-width="7"/><path d="M558.5 582.4L541.3 558" stroke="#d9b495" stroke-width="2.9"/>
<path d="M541.3 655.4L479.2 637" stroke="#8a5838" stroke-width="7"/><path d="M541.3 655.4L479.2 637" stroke="#d9b495" stroke-width="2.9"/>
<path d="M541.3 558L479.2 576.4" stroke="#8a5838" stroke-width="7"/><path d="M541.3 558L479.2 576.4" stroke="#d9b495" stroke-width="2.9"/>
<path d="M541.3 558L548.7 530.1" stroke="#8a5838" stroke-width="7"/><path d="M541.3 558L548.7 530.1" stroke="#d9b495" stroke-width="2.9"/><path d="M548.7 530.1L556.2 502.1" stroke="#a9b6e2" stroke-width="7"/><path d="M548.7 530.1L556.2 502.1" stroke="#e2e8fa" stroke-width="2.9"/>
<path d="M556.2 502.1L584.3 494.8" stroke="#a9b6e2" stroke-width="7"/><path d="M556.2 502.1L584.3 494.8" stroke="#e2e8fa" stroke-width="2.9"/><path d="M584.3 494.8L612.4 487.4" stroke="#8a5838" stroke-width="7"/><path d="M584.3 494.8L612.4 487.4" stroke="#d9b495" stroke-width="2.9"/>
</g><g>
<circle cx="297" cy="159.4" r="12.6" fill="url(#sN)"/>
<circle cx="248" cy="125.3" r="12.7" fill="url(#sC)"/>
<circle cx="346" cy="125.3" r="12.7" fill="url(#sC)"/>
<circle cx="266.5" cy="63.5" r="12.7" fill="url(#sC)"/>
<circle cx="327.5" cy="63.5" r="12.7" fill="url(#sC)"/>
<circle cx="402.2" cy="140" r="12.6" fill="url(#sN)"/>
<circle cx="382.7" cy="244.6" r="12.6" fill="url(#sN)"/>
<circle cx="417.1" cy="195.9" r="12.7" fill="url(#sC)"/>
<circle cx="417.1" cy="293.3" r="12.7" fill="url(#sC)"/>
<circle cx="479.2" cy="214.3" r="12.7" fill="url(#sC)"/>
<circle cx="479.2" cy="274.9" r="12.7" fill="url(#sC)"/>
<circle cx="402.2" cy="349.2" r="12.6" fill="url(#sN)"/>
<circle cx="297" cy="329.8" r="12.6" fill="url(#sN)"/>
<circle cx="346" cy="363.9" r="12.7" fill="url(#sC)"/>
<circle cx="248" cy="363.9" r="12.7" fill="url(#sC)"/>
<circle cx="327.5" cy="425.6" r="12.7" fill="url(#sC)"/>
<circle cx="266.5" cy="425.6" r="12.7" fill="url(#sC)"/>
<circle cx="191.8" cy="349.2" r="12.6" fill="url(#sN)"/>
<circle cx="211.3" cy="244.6" r="12.6" fill="url(#sN)"/>
<circle cx="176.9" cy="293.3" r="12.7" fill="url(#sC)"/>
<circle cx="176.9" cy="195.9" r="12.7" fill="url(#sC)"/>
<circle cx="114.8" cy="274.9" r="12.7" fill="url(#sC)"/>
<circle cx="114.8" cy="214.3" r="12.7" fill="url(#sC)"/>
<circle cx="191.8" cy="140" r="12.6" fill="url(#sN)"/>
<circle cx="297" cy="521.5" r="12.6" fill="url(#sN)"/>
<circle cx="248" cy="487.4" r="12.7" fill="url(#sC)"/>
<circle cx="346" cy="487.4" r="12.7" fill="url(#sC)"/>
<circle cx="402.2" cy="502.1" r="12.6" fill="url(#sN)"/>
<circle cx="382.7" cy="606.7" r="12.6" fill="url(#sN)"/>
<circle cx="417.1" cy="558" r="12.7" fill="url(#sC)"/>
<circle cx="417.1" cy="655.4" r="12.7" fill="url(#sC)"/>
<circle cx="479.2" cy="576.4" r="12.7" fill="url(#sC)"/>
<circle cx="479.2" cy="637" r="12.7" fill="url(#sC)"/>
<circle cx="402.2" cy="711.3" r="12.6" fill="url(#sN)"/>
<circle cx="297" cy="691.9" r="12.6" fill="url(#sN)"/>
<circle cx="346" cy="726" r="12.7" fill="url(#sC)"/>
<circle cx="248" cy="726" r="12.7" fill="url(#sC)"/>
<circle cx="327.5" cy="787.8" r="12.7" fill="url(#sC)"/>
<circle cx="266.5" cy="787.8" r="12.7" fill="url(#sC)"/>
<circle cx="191.8" cy="711.3" r="12.6" fill="url(#sN)"/>
<circle cx="211.3" cy="606.7" r="12.6" fill="url(#sN)"/>
<circle cx="176.9" cy="655.4" r="12.7" fill="url(#sC)"/>
<circle cx="176.9" cy="558" r="12.7" fill="url(#sC)"/>
<circle cx="114.8" cy="637" r="12.7" fill="url(#sC)"/>
<circle cx="114.8" cy="576.4" r="12.7" fill="url(#sC)"/>
<circle cx="191.8" cy="502.1" r="12.6" fill="url(#sN)"/>
<circle cx="661.4" cy="159.4" r="12.6" fill="url(#sN)"/>
<circle cx="612.4" cy="125.3" r="12.7" fill="url(#sC)"/>
<circle cx="710.4" cy="125.3" r="12.7" fill="url(#sC)"/>
<circle cx="630.9" cy="63.5" r="12.7" fill="url(#sC)"/>
<circle cx="691.9" cy="63.5" r="12.7" fill="url(#sC)"/>
<circle cx="766.6" cy="140" r="12.6" fill="url(#sN)"/>
<circle cx="747.1" cy="244.6" r="12.6" fill="url(#sN)"/>
<circle cx="781.5" cy="195.9" r="12.7" fill="url(#sC)"/>
<circle cx="781.5" cy="293.3" r="12.7" fill="url(#sC)"/>
<circle cx="843.6" cy="214.3" r="12.7" fill="url(#sC)"/>
<circle cx="843.6" cy="274.9" r="12.7" fill="url(#sC)"/>
<circle cx="766.6" cy="349.2" r="12.6" fill="url(#sN)"/>
<circle cx="661.4" cy="329.8" r="12.6" fill="url(#sN)"/>
<circle cx="710.4" cy="363.9" r="12.7" fill="url(#sC)"/>
<circle cx="612.4" cy="363.9" r="12.7" fill="url(#sC)"/>
<circle cx="691.9" cy="425.6" r="12.7" fill="url(#sC)"/>
<circle cx="630.9" cy="425.6" r="12.7" fill="url(#sC)"/>
<circle cx="556.2" cy="349.2" r="12.6" fill="url(#sN)"/>
<circle cx="575.7" cy="244.6" r="12.6" fill="url(#sN)"/>
<circle cx="541.3" cy="293.3" r="12.7" fill="url(#sC)"/>
<circle cx="541.3" cy="195.9" r="12.7" fill="url(#sC)"/>
<circle cx="556.2" cy="140" r="12.6" fill="url(#sN)"/>
<circle cx="661.4" cy="521.5" r="12.6" fill="url(#sN)"/>
<circle cx="612.4" cy="487.4" r="12.7" fill="url(#sC)"/>
<circle cx="710.4" cy="487.4" r="12.7" fill="url(#sC)"/>
<circle cx="766.6" cy="502.1" r="12.6" fill="url(#sN)"/>
<circle cx="747.1" cy="606.7" r="12.6" fill="url(#sN)"/>
<circle cx="781.5" cy="558" r="12.7" fill="url(#sC)"/>
<circle cx="781.5" cy="655.4" r="12.7" fill="url(#sC)"/>
<circle cx="843.6" cy="576.4" r="12.7" fill="url(#sC)"/>
<circle cx="843.6" cy="637" r="12.7" fill="url(#sC)"/>
<circle cx="766.6" cy="711.3" r="12.6" fill="url(#sN)"/>
<circle cx="661.4" cy="691.9" r="12.6" fill="url(#sN)"/>
<circle cx="710.4" cy="726" r="12.7" fill="url(#sC)"/>
<circle cx="612.4" cy="726" r="12.7" fill="url(#sC)"/>
<circle cx="691.9" cy="787.8" r="12.7" fill="url(#sC)"/>
<circle cx="630.9" cy="787.8" r="12.7" fill="url(#sC)"/>
<circle cx="556.2" cy="711.3" r="12.6" fill="url(#sN)"/>
<circle cx="575.7" cy="606.7" r="12.6" fill="url(#sN)"/>
<circle cx="541.3" cy="655.4" r="12.7" fill="url(#sC)"/>
<circle cx="541.3" cy="558" r="12.7" fill="url(#sC)"/>
<circle cx="556.2" cy="502.1" r="12.6" fill="url(#sN)"/>
</g>
<g stroke-linecap="butt" fill="none">
<path d="M112.6 859.5L845.8 859.5" stroke="#8a5838" stroke-width="7.0"/>
</g><g>
<circle cx="265.2" cy="859.5" r="12.7" fill="url(#sC)"/>
<circle cx="326.6" cy="859.5" r="12.7" fill="url(#sC)"/>
<circle cx="631.8" cy="859.5" r="12.7" fill="url(#sC)"/>
<circle cx="693.2" cy="859.5" r="12.7" fill="url(#sC)"/>
<circle cx="246.6" cy="859.5" r="12.7" fill="url(#sC)"/>
<circle cx="345.2" cy="859.5" r="12.7" fill="url(#sC)"/>
<circle cx="613.2" cy="859.5" r="12.7" fill="url(#sC)"/>
<circle cx="711.8" cy="859.5" r="12.7" fill="url(#sC)"/>
<circle cx="401.8" cy="859.5" r="12.6" fill="url(#sN)"/>
<circle cx="190" cy="859.5" r="12.6" fill="url(#sN)"/>
<circle cx="768.4" cy="859.5" r="12.6" fill="url(#sN)"/>
<circle cx="556.6" cy="859.5" r="12.6" fill="url(#sN)"/>
<circle cx="295.9" cy="859.5" r="12.6" fill="url(#sN)"/>
<circle cx="662.5" cy="859.5" r="12.6" fill="url(#sN)"/>
<circle cx="416.7" cy="859.5" r="12.7" fill="url(#sC)"/>
<circle cx="175.1" cy="859.5" r="12.7" fill="url(#sC)"/>
<circle cx="783.3" cy="859.5" r="12.7" fill="url(#sC)"/>
<circle cx="541.7" cy="859.5" r="12.7" fill="url(#sC)"/>
<circle cx="479.2" cy="859.5" r="12.7" fill="url(#sC)"/>
<circle cx="112.6" cy="859.5" r="12.7" fill="url(#sC)"/>
<circle cx="845.8" cy="859.5" r="12.7" fill="url(#sC)"/>
<circle cx="382.2" cy="859.5" r="12.6" fill="url(#sN)"/>
<circle cx="209.7" cy="859.5" r="12.6" fill="url(#sN)"/>
<circle cx="748.8" cy="859.5" r="12.6" fill="url(#sN)"/>
<circle cx="576.2" cy="859.5" r="12.6" fill="url(#sN)"/>
<circle cx="479.2" cy="859.5" r="12.7" fill="url(#sC)"/>
<circle cx="112.6" cy="859.5" r="12.7" fill="url(#sC)"/>
<circle cx="845.8" cy="859.5" r="12.7" fill="url(#sC)"/>
<circle cx="416.7" cy="859.5" r="12.7" fill="url(#sC)"/>
<circle cx="175.1" cy="859.5" r="12.7" fill="url(#sC)"/>
<circle cx="783.3" cy="859.5" r="12.7" fill="url(#sC)"/>
<circle cx="541.7" cy="859.5" r="12.7" fill="url(#sC)"/>
<circle cx="295.9" cy="859.5" r="12.6" fill="url(#sN)"/>
<circle cx="662.5" cy="859.5" r="12.6" fill="url(#sN)"/>
<circle cx="401.8" cy="859.5" r="12.6" fill="url(#sN)"/>
<circle cx="190" cy="859.5" r="12.6" fill="url(#sN)"/>
<circle cx="768.4" cy="859.5" r="12.6" fill="url(#sN)"/>
<circle cx="556.6" cy="859.5" r="12.6" fill="url(#sN)"/>
<circle cx="345.2" cy="859.5" r="12.7" fill="url(#sC)"/>
<circle cx="246.6" cy="859.5" r="12.7" fill="url(#sC)"/>
<circle cx="711.8" cy="859.5" r="12.7" fill="url(#sC)"/>
<circle cx="613.2" cy="859.5" r="12.7" fill="url(#sC)"/>
<circle cx="326.6" cy="859.5" r="12.7" fill="url(#sC)"/>
<circle cx="265.2" cy="859.5" r="12.7" fill="url(#sC)"/>
<circle cx="693.2" cy="859.5" r="12.7" fill="url(#sC)"/>
<circle cx="631.8" cy="859.5" r="12.7" fill="url(#sC)"/>
<circle cx="246.6" cy="859.5" r="12.7" fill="url(#sC)"/>
<circle cx="345.2" cy="859.5" r="12.7" fill="url(#sC)"/>
<circle cx="613.2" cy="859.5" r="12.7" fill="url(#sC)"/>
<circle cx="711.8" cy="859.5" r="12.7" fill="url(#sC)"/>
<circle cx="401.8" cy="859.5" r="12.6" fill="url(#sN)"/>
<circle cx="190" cy="859.5" r="12.6" fill="url(#sN)"/>
<circle cx="768.4" cy="859.5" r="12.6" fill="url(#sN)"/>
<circle cx="556.6" cy="859.5" r="12.6" fill="url(#sN)"/>
<circle cx="295.9" cy="859.5" r="12.6" fill="url(#sN)"/>
<circle cx="662.5" cy="859.5" r="12.6" fill="url(#sN)"/>
<circle cx="416.7" cy="859.5" r="12.7" fill="url(#sC)"/>
<circle cx="175.1" cy="859.5" r="12.7" fill="url(#sC)"/>
<circle cx="783.3" cy="859.5" r="12.7" fill="url(#sC)"/>
<circle cx="541.7" cy="859.5" r="12.7" fill="url(#sC)"/>
<circle cx="479.2" cy="859.5" r="12.7" fill="url(#sC)"/>
<circle cx="112.6" cy="859.5" r="12.7" fill="url(#sC)"/>
<circle cx="845.8" cy="859.5" r="12.7" fill="url(#sC)"/>
<circle cx="382.2" cy="859.5" r="12.6" fill="url(#sN)"/>
<circle cx="209.7" cy="859.5" r="12.6" fill="url(#sN)"/>
<circle cx="748.8" cy="859.5" r="12.6" fill="url(#sN)"/>
<circle cx="576.2" cy="859.5" r="12.6" fill="url(#sN)"/>
<circle cx="479.2" cy="859.5" r="12.7" fill="url(#sC)"/>
<circle cx="112.6" cy="859.5" r="12.7" fill="url(#sC)"/>
<circle cx="845.8" cy="859.5" r="12.7" fill="url(#sC)"/>
<circle cx="416.7" cy="859.5" r="12.7" fill="url(#sC)"/>
<circle cx="175.1" cy="859.5" r="12.7" fill="url(#sC)"/>
<circle cx="783.3" cy="859.5" r="12.7" fill="url(#sC)"/>
<circle cx="541.7" cy="859.5" r="12.7" fill="url(#sC)"/>
<circle cx="295.9" cy="859.5" r="12.6" fill="url(#sN)"/>
<circle cx="662.5" cy="859.5" r="12.6" fill="url(#sN)"/>
<circle cx="401.8" cy="859.5" r="12.6" fill="url(#sN)"/>
<circle cx="190" cy="859.5" r="12.6" fill="url(#sN)"/>
<circle cx="768.4" cy="859.5" r="12.6" fill="url(#sN)"/>
<circle cx="556.6" cy="859.5" r="12.6" fill="url(#sN)"/>
<circle cx="345.2" cy="859.5" r="12.7" fill="url(#sC)"/>
<circle cx="246.6" cy="859.5" r="12.7" fill="url(#sC)"/>
<circle cx="711.8" cy="859.5" r="12.7" fill="url(#sC)"/>
<circle cx="613.2" cy="859.5" r="12.7" fill="url(#sC)"/>
</g><g stroke-linecap="butt" fill="none">
<path d="M265.2 859.5L326.6 859.5" stroke="#8a5838" stroke-width="7"/><path d="M265.2 859.5L326.6 859.5" stroke="#d9b495" stroke-width="2.9"/>
<path d="M631.8 859.5L693.2 859.5" stroke="#8a5838" stroke-width="7"/><path d="M631.8 859.5L693.2 859.5" stroke="#d9b495" stroke-width="2.9"/>
</g><g>
<circle cx="265.2" cy="859.5" r="12.7" fill="url(#sC)"/>
<circle cx="326.6" cy="859.5" r="12.7" fill="url(#sC)"/>
<circle cx="631.8" cy="859.5" r="12.7" fill="url(#sC)"/>
<circle cx="693.2" cy="859.5" r="12.7" fill="url(#sC)"/>
</g>
<text x="69" y="106.5" font-family='"Liberation Serif", "DejaVu Serif", serif' font-size="83">(a)</text>
<text x="634.8" y="272.5" font-family='"Liberation Serif", "DejaVu Serif", serif' font-size="83">S</text>
<text x="452.8" y="452" font-family='"Liberation Serif", "DejaVu Serif", serif' font-size="83">L</text>
</g>
<g id="pb">
<path d="M1045.5 722.9C1048.4 719.4 1056.6 708.9 1063 701.8C1069.4 694.8 1077 687.5 1084 680.8C1091 674.2 1098 668.6 1105 661.9C1112 655.3 1119 646.9 1126.1 640.9C1133.1 635 1140.1 629.6 1147.1 626.2C1154.1 622.9 1162.5 621.6 1168.1 620.8C1173.7 619.9 1176.5 620.3 1180.7 621.2C1184.9 622.1 1188.4 622.6 1193.3 626.2C1198.2 629.9 1204.5 637.6 1210.1 643C1215.7 648.5 1222 655.4 1226.9 659C1231.8 662.6 1235.3 663 1239.5 664.9C1243.7 666.8 1247.9 667.8 1252.1 670.3C1256.3 672.9 1260.5 677.2 1264.7 680C1268.9 682.8 1273.8 686.3 1277.3 687.1C1280.8 688 1282.9 687.5 1285.7 685C1288.5 682.6 1290.6 678.4 1294.1 672.4C1297.6 666.5 1302.5 655.8 1306.7 649.3C1310.9 642.9 1315.1 635.9 1319.3 633.8C1323.5 631.7 1327.7 635.9 1331.9 636.7C1336.1 637.6 1341 640.6 1344.5 638.8C1348 637.1 1349.4 633.9 1352.9 626.2C1356.4 618.5 1361.7 601.7 1365.5 592.6C1369.4 583.5 1373.5 575.6 1376.1 571.6C1378.6 567.6 1379 568 1381.1 568.7C1383.2 569.4 1385.6 570.4 1388.7 575.8C1391.7 581.2 1395.3 591.9 1399.2 601C1403 610.1 1407.9 622.4 1411.8 630.4C1415.6 638.5 1419.1 645.5 1422.3 649.3C1425.4 653.2 1427.9 653.9 1430.7 653.5C1433.5 653.2 1435.6 652.8 1439.1 647.2C1442.6 641.6 1447.1 630.4 1451.7 619.9C1456.2 609.4 1461.8 592.6 1466.4 584.2C1470.9 575.8 1475.5 572.2 1479 569.5C1482.5 566.8 1484.2 568.2 1487.4 568.2C1490.5 568.2 1494 569.8 1497.9 569.5C1501.8 569.1 1506.3 567.2 1510.5 566.1C1514.7 565.1 1519.6 563 1523.1 563.2C1526.6 563.4 1528.4 563.9 1531.5 567.4C1534.7 570.9 1538.2 577.9 1542 584.2C1545.9 590.5 1551 600.7 1554.6 605.2C1558.3 609.8 1560.7 611.9 1563.9 611.5C1567 611.2 1569.5 609.1 1573.5 603.1C1577.6 597.2 1583 586.7 1588.2 575.8C1593.5 564.9 1600.1 550.6 1605 538C1609.9 525.4 1613.4 517.7 1617.6 500.2C1621.8 482.7 1626.4 454.6 1630.3 432.9C1634.1 411.2 1638 384.6 1640.8 369.9C1643.6 355.2 1645.2 349.7 1647.1 344.7C1648.9 339.7 1650.1 339.7 1651.7 339.7C1653.2 339.7 1654.3 337.6 1656.3 344.7C1658.3 351.8 1661.2 365 1663.9 382.5C1666.5 400 1669.5 427.3 1672.3 449.7C1675.1 472.2 1677.9 498.1 1680.7 517C1683.5 535.9 1686.3 552 1689.1 563.2C1691.9 574.4 1694 578.7 1697.5 584.2C1701 589.7 1705.9 591.1 1710.1 596C1714.3 600.9 1719 607.5 1722.7 613.6C1726.4 619.7 1728.8 626.9 1732.4 632.5C1735.9 638.1 1739.8 642.3 1743.8 647.2C1747.9 652.1 1751.9 658.6 1756.4 661.9C1761 665.3 1766.2 667 1771.2 667.4C1776.1 667.7 1781 665.3 1785.9 664C1790.8 662.8 1796.4 660 1800.6 659.8C1804.8 659.6 1807.2 660.3 1811.1 662.8C1814.9 665.2 1818.8 669.1 1823.7 674.5C1828.6 680 1834.9 688.5 1840.5 695.5C1846.1 702.5 1852 711.1 1857.3 716.6C1862.5 722 1867.1 725.7 1872 728.3C1876.9 730.9 1879.3 731.4 1886.7 732.1C1894.1 732.8 1900.7 732.7 1916.1 732.5C1931.5 732.3 1961.6 730.8 1979.1 730.8C1996.6 730.8 2012 732.5 2021.2 732.5C2030.3 732.6 2030.3 732.5 2033.8 731.3C2037.3 730 2038.7 729.2 2042.2 725C2045.7 720.8 2050.6 712.7 2054.8 706.1C2059 699.4 2063.5 690.5 2067.4 685C2071.2 679.6 2075.1 675.7 2077.9 673.3C2080.7 670.8 2081.7 670.1 2084.2 670.3C2086.6 670.5 2089.4 671.4 2092.6 674.5C2095.7 677.7 2099.2 684.3 2103.1 689.2C2106.9 694.1 2111.5 700.7 2115.7 703.9C2119.9 707.2 2123 708.6 2128.3 709C2133.5 709.3 2140.5 707.2 2147.2 706.1C2153.9 704.9 2161.9 702.7 2168.2 701.8C2174.5 701 2179.4 700.3 2185 701C2190.6 701.7 2196.2 703.8 2201.8 706.1C2207.4 708.3 2213.7 712.5 2218.6 714.5C2223.5 716.4 2227.4 718 2231.2 717.8C2235.1 717.7 2237.5 716.1 2241.7 713.6C2245.9 711.1 2251.9 705.2 2256.4 702.7C2261 700.2 2264.8 698.8 2269.1 698.5C2273.3 698.2 2276.8 699.4 2281.7 701C2286.6 702.6 2292.9 706.4 2298.5 708.2C2304.1 709.9 2309 710.8 2315.3 711.5C2321.6 712.2 2330 712.9 2336.3 712.4C2342.6 711.8 2347.5 710.5 2353.1 708.2C2358.7 705.8 2363.9 701.1 2369.9 698.5C2375.8 695.8 2383.2 692.7 2388.8 692.2C2394.4 691.7 2398.4 693.4 2403.5 695.5C2408.7 697.7 2417 703.6 2419.7 705.2L2419.7 734.1L1045.5 734.1Z" fill="#fdf2ba"/>
<path d="M1045.5 722.9C1048.4 719.4 1056.6 708.9 1063 701.8C1069.4 694.8 1077 687.5 1084 680.8C1091 674.2 1098 668.6 1105 661.9C1112 655.3 1119 646.9 1126.1 640.9C1133.1 635 1140.1 629.6 1147.1 626.2C1154.1 622.9 1162.5 621.6 1168.1 620.8C1173.7 619.9 1176.5 620.3 1180.7 621.2C1184.9 622.1 1188.4 622.6 1193.3 626.2C1198.2 629.9 1204.5 637.6 1210.1 643C1215.7 648.5 1222 655.4 1226.9 659C1231.8 662.6 1235.3 663 1239.5 664.9C1243.7 666.8 1247.9 667.8 1252.1 670.3C1256.3 672.9 1260.5 677.2 1264.7 680C1268.9 682.8 1273.8 686.3 1277.3 687.1C1280.8 688 1282.9 687.5 1285.7 685C1288.5 682.6 1290.6 678.4 1294.1 672.4C1297.6 666.5 1302.5 655.8 1306.7 649.3C1310.9 642.9 1315.1 635.9 1319.3 633.8C1323.5 631.7 1327.7 635.9 1331.9 636.7C1336.1 637.6 1341 640.6 1344.5 638.8C1348 637.1 1349.4 633.9 1352.9 626.2C1356.4 618.5 1361.7 601.7 1365.5 592.6C1369.4 583.5 1373.5 575.6 1376.1 571.6C1378.6 567.6 1379 568 1381.1 568.7C1383.2 569.4 1385.6 570.4 1388.7 575.8C1391.7 581.2 1395.3 591.9 1399.2 601C1403 610.1 1407.9 622.4 1411.8 630.4C1415.6 638.5 1419.1 645.5 1422.3 649.3C1425.4 653.2 1427.9 653.9 1430.7 653.5C1433.5 653.2 1435.6 652.8 1439.1 647.2C1442.6 641.6 1447.1 630.4 1451.7 619.9C1456.2 609.4 1461.8 592.6 1466.4 584.2C1470.9 575.8 1475.5 572.2 1479 569.5C1482.5 566.8 1484.2 568.2 1487.4 568.2C1490.5 568.2 1494 569.8 1497.9 569.5C1501.8 569.1 1506.3 567.2 1510.5 566.1C1514.7 565.1 1519.6 563 1523.1 563.2C1526.6 563.4 1528.4 563.9 1531.5 567.4C1534.7 570.9 1538.2 577.9 1542 584.2C1545.9 590.5 1551 600.7 1554.6 605.2C1558.3 609.8 1560.7 611.9 1563.9 611.5C1567 611.2 1569.5 609.1 1573.5 603.1C1577.6 597.2 1583 586.7 1588.2 575.8C1593.5 564.9 1600.1 550.6 1605 538C1609.9 525.4 1613.4 517.7 1617.6 500.2C1621.8 482.7 1626.4 454.6 1630.3 432.9C1634.1 411.2 1638 384.6 1640.8 369.9C1643.6 355.2 1645.2 349.7 1647.1 344.7C1648.9 339.7 1650.1 339.7 1651.7 339.7C1653.2 339.7 1654.3 337.6 1656.3 344.7C1658.3 351.8 1661.2 365 1663.9 382.5C1666.5 400 1669.5 427.3 1672.3 449.7C1675.1 472.2 1677.9 498.1 1680.7 517C1683.5 535.9 1686.3 552 1689.1 563.2C1691.9 574.4 1694 578.7 1697.5 584.2C1701 589.7 1705.9 591.1 1710.1 596C1714.3 600.9 1719 607.5 1722.7 613.6C1726.4 619.7 1728.8 626.9 1732.4 632.5C1735.9 638.1 1739.8 642.3 1743.8 647.2C1747.9 652.1 1751.9 658.6 1756.4 661.9C1761 665.3 1766.2 667 1771.2 667.4C1776.1 667.7 1781 665.3 1785.9 664C1790.8 662.8 1796.4 660 1800.6 659.8C1804.8 659.6 1807.2 660.3 1811.1 662.8C1814.9 665.2 1818.8 669.1 1823.7 674.5C1828.6 680 1834.9 688.5 1840.5 695.5C1846.1 702.5 1852 711.1 1857.3 716.6C1862.5 722 1867.1 725.7 1872 728.3C1876.9 730.9 1879.3 731.4 1886.7 732.1C1894.1 732.8 1900.7 732.7 1916.1 732.5C1931.5 732.3 1961.6 730.8 1979.1 730.8C1996.6 730.8 2012 732.5 2021.2 732.5C2030.3 732.6 2030.3 732.5 2033.8 731.3C2037.3 730 2038.7 729.2 2042.2 725C2045.7 720.8 2050.6 712.7 2054.8 706.1C2059 699.4 2063.5 690.5 2067.4 685C2071.2 679.6 2075.1 675.7 2077.9 673.3C2080.7 670.8 2081.7 670.1 2084.2 670.3C2086.6 670.5 2089.4 671.4 2092.6 674.5C2095.7 677.7 2099.2 684.3 2103.1 689.2C2106.9 694.1 2111.5 700.7 2115.7 703.9C2119.9 707.2 2123 708.6 2128.3 709C2133.5 709.3 2140.5 707.2 2147.2 706.1C2153.9 704.9 2161.9 702.7 2168.2 701.8C2174.5 701 2179.4 700.3 2185 701C2190.6 701.7 2196.2 703.8 2201.8 706.1C2207.4 708.3 2213.7 712.5 2218.6 714.5C2223.5 716.4 2227.4 718 2231.2 717.8C2235.1 717.7 2237.5 716.1 2241.7 713.6C2245.9 711.1 2251.9 705.2 2256.4 702.7C2261 700.2 2264.8 698.8 2269.1 698.5C2273.3 698.2 2276.8 699.4 2281.7 701C2286.6 702.6 2292.9 706.4 2298.5 708.2C2304.1 709.9 2309 710.8 2315.3 711.5C2321.6 712.2 2330 712.9 2336.3 712.4C2342.6 711.8 2347.5 710.5 2353.1 708.2C2358.7 705.8 2363.9 701.1 2369.9 698.5C2375.8 695.8 2383.2 692.7 2388.8 692.2C2394.4 691.7 2398.4 693.4 2403.5 695.5C2408.7 697.7 2417 703.6 2419.7 705.2" fill="none" stroke="#6e6e6e" stroke-width="3.2" stroke-linejoin="round"/>
<path d="M1732.6 116.5L1732.6 734.1" stroke="#000" stroke-width="4.4" stroke-dasharray="18.3 14.9" fill="none"/>
<path d="M1045.6 734.1v15M1274.6 734.1v15M1503.6 734.1v15M1732.6 734.1v15M1961.6 734.1v15M2190.6 734.1v15M2419.6 734.1v15M1160.1 734.1v9M1389.1 734.1v9M1618.1 734.1v9M1847.1 734.1v9M2076.1 734.1v9M2305.1 734.1v9M1045.5 734.1h-15M1045.5 394.3h-8.5" stroke="#000" stroke-width="4.6" fill="none"/>
<rect x="1045.5" y="116.5" width="1374.2" height="617.6" fill="none" stroke="#000" stroke-width="5.2"/>
<g font-weight="bold" font-size="47.5" text-anchor="middle">
<text x="1044.1" y="796">-3</text>
<text x="1273.1" y="796">-2</text>
<text x="1502.1" y="796">-1</text>
<text x="1732.6" y="796">0</text>
<text x="1961.6" y="796">1</text>
<text x="2190.6" y="796">2</text>
<text x="2416.6" y="796">3</text>
<text x="1008" y="749.5">0</text>
</g>
<text x="1745" y="859.8" font-weight="bold" font-size="73" text-anchor="middle">Energy (eV)</text>
<text transform="translate(1016.4 403.8) rotate(-90)" font-weight="bold" font-size="73" text-anchor="middle">DOS</text>
<text x="1084" y="189.7" font-weight="bold" font-size="60">pc-C<tspan font-size="38" dy="15.5">3</tspan><tspan dy="-15.5">N</tspan><tspan font-size="38" dy="15.5">2</tspan></text>
<rect x="2126.6" y="136.4" width="104.2" height="51" fill="#fdf2ba" stroke="#c4bfa6" stroke-width="2.6"/>
<text x="2244.5" y="178.2" font-weight="bold" font-size="47.5">TDOS</text>
<text x="894" y="107.5" font-size="83">(b)</text>
</g>
<g id="pc">
<g stroke-linecap="butt" fill="none">
<path d="M300.8 1131.7L272.6 1110.7" stroke="#a9b6e2" stroke-width="9.6"/><path d="M300.8 1131.7L272.6 1110.7" stroke="#e2e8fa" stroke-width="4"/><path d="M272.6 1110.7L244.3 1089.6" stroke="#8a5838" stroke-width="9.6"/><path d="M272.6 1110.7L244.3 1089.6" stroke="#d9b495" stroke-width="4"/>
<path d="M300.8 1131.7L329.1 1110.7" stroke="#a9b6e2" stroke-width="9.6"/><path d="M300.8 1131.7L329.1 1110.7" stroke="#e2e8fa" stroke-width="4"/><path d="M329.1 1110.7L357.3 1089.6" stroke="#8a5838" stroke-width="9.6"/><path d="M329.1 1110.7L357.3 1089.6" stroke="#d9b495" stroke-width="4"/>
<path d="M244.3 1089.6L265.8 1022.8" stroke="#8a5838" stroke-width="9.6"/><path d="M244.3 1089.6L265.8 1022.8" stroke="#d9b495" stroke-width="4"/>
<path d="M357.3 1089.6L335.8 1022.8" stroke="#8a5838" stroke-width="9.6"/><path d="M357.3 1089.6L335.8 1022.8" stroke="#d9b495" stroke-width="4"/>
<path d="M265.8 1022.8L335.8 1022.8" stroke="#8a5838" stroke-width="9.6"/><path d="M265.8 1022.8L335.8 1022.8" stroke="#d9b495" stroke-width="4"/>
<path d="M357.3 1089.6L389.9 1097.8" stroke="#8a5838" stroke-width="9.6"/><path d="M357.3 1089.6L389.9 1097.8" stroke="#d9b495" stroke-width="4"/><path d="M389.9 1097.8L422.4 1106" stroke="#a9b6e2" stroke-width="9.6"/><path d="M389.9 1097.8L422.4 1106" stroke="#e2e8fa" stroke-width="4"/>
<path d="M422.4 1106L430.9 1138.9" stroke="#a9b6e2" stroke-width="9.6"/><path d="M422.4 1106L430.9 1138.9" stroke="#e2e8fa" stroke-width="4"/><path d="M430.9 1138.9L439.5 1171.8" stroke="#8a5838" stroke-width="9.6"/><path d="M430.9 1138.9L439.5 1171.8" stroke="#d9b495" stroke-width="4"/>
<path d="M397.4 1228.3L418.4 1200" stroke="#a9b6e2" stroke-width="9.6"/><path d="M397.4 1228.3L418.4 1200" stroke="#e2e8fa" stroke-width="4"/><path d="M418.4 1200L439.5 1171.8" stroke="#8a5838" stroke-width="9.6"/><path d="M418.4 1200L439.5 1171.8" stroke="#d9b495" stroke-width="4"/>
<path d="M397.4 1228.3L418.4 1256.5" stroke="#a9b6e2" stroke-width="9.6"/><path d="M397.4 1228.3L418.4 1256.5" stroke="#e2e8fa" stroke-width="4"/><path d="M418.4 1256.5L439.5 1284.8" stroke="#8a5838" stroke-width="9.6"/><path d="M418.4 1256.5L439.5 1284.8" stroke="#d9b495" stroke-width="4"/>
<path d="M439.5 1171.8L506.3 1193.3" stroke="#8a5838" stroke-width="9.6"/><path d="M439.5 1171.8L506.3 1193.3" stroke="#d9b495" stroke-width="4"/>
<path d="M439.5 1284.8L506.3 1263.3" stroke="#8a5838" stroke-width="9.6"/><path d="M439.5 1284.8L506.3 1263.3" stroke="#d9b495" stroke-width="4"/>
<path d="M506.3 1193.3L506.3 1263.3" stroke="#8a5838" stroke-width="9.6"/><path d="M506.3 1193.3L506.3 1263.3" stroke="#d9b495" stroke-width="4"/>
<path d="M439.5 1284.8L431.3 1317.3" stroke="#8a5838" stroke-width="9.6"/><path d="M439.5 1284.8L431.3 1317.3" stroke="#d9b495" stroke-width="4"/><path d="M431.3 1317.3L423.1 1349.9" stroke="#a9b6e2" stroke-width="9.6"/><path d="M431.3 1317.3L423.1 1349.9" stroke="#e2e8fa" stroke-width="4"/>
<path d="M423.1 1349.9L390.2 1358.4" stroke="#a9b6e2" stroke-width="9.6"/><path d="M423.1 1349.9L390.2 1358.4" stroke="#e2e8fa" stroke-width="4"/><path d="M390.2 1358.4L357.3 1367" stroke="#8a5838" stroke-width="9.6"/><path d="M390.2 1358.4L357.3 1367" stroke="#d9b495" stroke-width="4"/>
<path d="M300.8 1324.9L329.1 1345.9" stroke="#a9b6e2" stroke-width="9.6"/><path d="M300.8 1324.9L329.1 1345.9" stroke="#e2e8fa" stroke-width="4"/><path d="M329.1 1345.9L357.3 1367" stroke="#8a5838" stroke-width="9.6"/><path d="M329.1 1345.9L357.3 1367" stroke="#d9b495" stroke-width="4"/>
<path d="M300.8 1324.9L272.6 1345.9" stroke="#a9b6e2" stroke-width="9.6"/><path d="M300.8 1324.9L272.6 1345.9" stroke="#e2e8fa" stroke-width="4"/><path d="M272.6 1345.9L244.3 1367" stroke="#8a5838" stroke-width="9.6"/><path d="M272.6 1345.9L244.3 1367" stroke="#d9b495" stroke-width="4"/>
<path d="M357.3 1367L335.8 1433.8" stroke="#8a5838" stroke-width="9.6"/><path d="M357.3 1367L335.8 1433.8" stroke="#d9b495" stroke-width="4"/>
<path d="M244.3 1367L265.8 1433.8" stroke="#8a5838" stroke-width="9.6"/><path d="M244.3 1367L265.8 1433.8" stroke="#d9b495" stroke-width="4"/>
<path d="M335.8 1433.8L265.8 1433.8" stroke="#8a5838" stroke-width="9.6"/><path d="M335.8 1433.8L265.8 1433.8" stroke="#d9b495" stroke-width="4"/>
<path d="M244.3 1367L211.8 1358.8" stroke="#8a5838" stroke-width="9.6"/><path d="M244.3 1367L211.8 1358.8" stroke="#d9b495" stroke-width="4"/><path d="M211.8 1358.8L179.2 1350.6" stroke="#a9b6e2" stroke-width="9.6"/><path d="M211.8 1358.8L179.2 1350.6" stroke="#e2e8fa" stroke-width="4"/>
<path d="M179.2 1350.6L170.7 1317.7" stroke="#a9b6e2" stroke-width="9.6"/><path d="M179.2 1350.6L170.7 1317.7" stroke="#e2e8fa" stroke-width="4"/><path d="M170.7 1317.7L162.1 1284.8" stroke="#8a5838" stroke-width="9.6"/><path d="M170.7 1317.7L162.1 1284.8" stroke="#d9b495" stroke-width="4"/>
<path d="M204.2 1228.3L183.2 1256.5" stroke="#a9b6e2" stroke-width="9.6"/><path d="M204.2 1228.3L183.2 1256.5" stroke="#e2e8fa" stroke-width="4"/><path d="M183.2 1256.5L162.1 1284.8" stroke="#8a5838" stroke-width="9.6"/><path d="M183.2 1256.5L162.1 1284.8" stroke="#d9b495" stroke-width="4"/>
<path d="M204.2 1228.3L183.2 1200" stroke="#a9b6e2" stroke-width="9.6"/><path d="M204.2 1228.3L183.2 1200" stroke="#e2e8fa" stroke-width="4"/><path d="M183.2 1200L162.1 1171.8" stroke="#8a5838" stroke-width="9.6"/><path d="M183.2 1200L162.1 1171.8" stroke="#d9b495" stroke-width="4"/>
<path d="M162.1 1284.8L95.3 1263.3" stroke="#8a5838" stroke-width="9.6"/><path d="M162.1 1284.8L95.3 1263.3" stroke="#d9b495" stroke-width="4"/>
<path d="M162.1 1171.8L95.3 1193.3" stroke="#8a5838" stroke-width="9.6"/><path d="M162.1 1171.8L95.3 1193.3" stroke="#d9b495" stroke-width="4"/>
<path d="M95.3 1263.3L95.3 1193.3" stroke="#8a5838" stroke-width="9.6"/><path d="M95.3 1263.3L95.3 1193.3" stroke="#d9b495" stroke-width="4"/>
<path d="M162.1 1171.8L170.3 1139.2" stroke="#8a5838" stroke-width="9.6"/><path d="M162.1 1171.8L170.3 1139.2" stroke="#d9b495" stroke-width="4"/><path d="M170.3 1139.2L178.5 1106.7" stroke="#a9b6e2" stroke-width="9.6"/><path d="M170.3 1139.2L178.5 1106.7" stroke="#e2e8fa" stroke-width="4"/>
<path d="M178.5 1106.7L211.4 1098.2" stroke="#a9b6e2" stroke-width="9.6"/><path d="M178.5 1106.7L211.4 1098.2" stroke="#e2e8fa" stroke-width="4"/><path d="M211.4 1098.2L244.3 1089.6" stroke="#8a5838" stroke-width="9.6"/><path d="M211.4 1098.2L244.3 1089.6" stroke="#d9b495" stroke-width="4"/>
<path d="M300.8 1228.3L300.8 1175.2" stroke="#b8820f" stroke-width="9.6"/><path d="M300.8 1228.3L300.8 1175.2" stroke="#fbe688" stroke-width="4"/><path d="M300.8 1175.2L300.8 1131.7" stroke="#a9b6e2" stroke-width="9.6"/><path d="M300.8 1175.2L300.8 1131.7" stroke="#e2e8fa" stroke-width="4"/>
<path d="M300.8 1228.3L353.9 1228.3" stroke="#b8820f" stroke-width="9.6"/><path d="M300.8 1228.3L353.9 1228.3" stroke="#fbe688" stroke-width="4"/><path d="M353.9 1228.3L397.4 1228.3" stroke="#a9b6e2" stroke-width="9.6"/><path d="M353.9 1228.3L397.4 1228.3" stroke="#e2e8fa" stroke-width="4"/>
<path d="M300.8 1228.3L300.8 1281.4" stroke="#b8820f" stroke-width="9.6"/><path d="M300.8 1228.3L300.8 1281.4" stroke="#fbe688" stroke-width="4"/><path d="M300.8 1281.4L300.8 1324.9" stroke="#a9b6e2" stroke-width="9.6"/><path d="M300.8 1281.4L300.8 1324.9" stroke="#e2e8fa" stroke-width="4"/>
<path d="M300.8 1228.3L247.7 1228.3" stroke="#b8820f" stroke-width="9.6"/><path d="M300.8 1228.3L247.7 1228.3" stroke="#fbe688" stroke-width="4"/><path d="M247.7 1228.3L204.2 1228.3" stroke="#a9b6e2" stroke-width="9.6"/><path d="M247.7 1228.3L204.2 1228.3" stroke="#e2e8fa" stroke-width="4"/>
</g><g>
<circle cx="300.8" cy="1131.7" r="14.4" fill="url(#sN)"/>
<circle cx="244.3" cy="1089.6" r="14.6" fill="url(#sC)"/>
<circle cx="357.3" cy="1089.6" r="14.6" fill="url(#sC)"/>
<circle cx="265.8" cy="1022.8" r="14.6" fill="url(#sC)"/>
<circle cx="335.8" cy="1022.8" r="14.6" fill="url(#sC)"/>
<circle cx="422.4" cy="1106" r="14.4" fill="url(#sN)"/>
<circle cx="397.4" cy="1228.3" r="14.4" fill="url(#sN)"/>
<circle cx="439.5" cy="1171.8" r="14.6" fill="url(#sC)"/>
<circle cx="439.5" cy="1284.8" r="14.6" fill="url(#sC)"/>
<circle cx="506.3" cy="1193.3" r="14.6" fill="url(#sC)"/>
<circle cx="506.3" cy="1263.3" r="14.6" fill="url(#sC)"/>
<circle cx="423.1" cy="1349.9" r="14.4" fill="url(#sN)"/>
<circle cx="300.8" cy="1324.9" r="14.4" fill="url(#sN)"/>
<circle cx="357.3" cy="1367" r="14.6" fill="url(#sC)"/>
<circle cx="244.3" cy="1367" r="14.6" fill="url(#sC)"/>
<circle cx="335.8" cy="1433.8" r="14.6" fill="url(#sC)"/>
<circle cx="265.8" cy="1433.8" r="14.6" fill="url(#sC)"/>
<circle cx="179.2" cy="1350.6" r="14.4" fill="url(#sN)"/>
<circle cx="204.2" cy="1228.3" r="14.4" fill="url(#sN)"/>
<circle cx="162.1" cy="1284.8" r="14.6" fill="url(#sC)"/>
<circle cx="162.1" cy="1171.8" r="14.6" fill="url(#sC)"/>
<circle cx="95.3" cy="1263.3" r="14.6" fill="url(#sC)"/>
<circle cx="95.3" cy="1193.3" r="14.6" fill="url(#sC)"/>
<circle cx="178.5" cy="1106.7" r="14.4" fill="url(#sN)"/>
<circle cx="300.8" cy="1228.3" r="24" fill="url(#sM)"/>
</g>
<g stroke-linecap="butt" fill="none">
<path d="M676.2 1082.1L742 1060.7" stroke="#8a5838" stroke-width="9.6"/><path d="M676.2 1082.1L742 1060.7" stroke="#d9b495" stroke-width="4"/>
<path d="M742 1060.7L807.8 1082.1" stroke="#8a5838" stroke-width="9.6"/><path d="M742 1060.7L807.8 1082.1" stroke="#d9b495" stroke-width="4"/>
<path d="M676.2 1082.1L655.2 1054.1" stroke="#8a5838" stroke-width="9.6"/><path d="M676.2 1082.1L655.2 1054.1" stroke="#d9b495" stroke-width="4"/><path d="M655.2 1054.1L634.2 1026.1" stroke="#a9b6e2" stroke-width="9.6"/><path d="M655.2 1054.1L634.2 1026.1" stroke="#e2e8fa" stroke-width="4"/>
<path d="M807.8 1082.1L828.8 1054.1" stroke="#8a5838" stroke-width="9.6"/><path d="M807.8 1082.1L828.8 1054.1" stroke="#d9b495" stroke-width="4"/><path d="M828.8 1054.1L849.8 1026.1" stroke="#a9b6e2" stroke-width="9.6"/><path d="M828.8 1054.1L849.8 1026.1" stroke="#e2e8fa" stroke-width="4"/>
<path d="M807.8 1082.1L816 1114.1" stroke="#8a5838" stroke-width="9.6"/><path d="M807.8 1082.1L816 1114.1" stroke="#d9b495" stroke-width="4"/><path d="M816 1114.1L824.2 1146.1" stroke="#a9b6e2" stroke-width="9.6"/><path d="M816 1114.1L824.2 1146.1" stroke="#e2e8fa" stroke-width="4"/>
<path d="M824.2 1146.1L856.2 1154.3" stroke="#a9b6e2" stroke-width="9.6"/><path d="M824.2 1146.1L856.2 1154.3" stroke="#e2e8fa" stroke-width="4"/><path d="M856.2 1154.3L888.2 1162.5" stroke="#8a5838" stroke-width="9.6"/><path d="M856.2 1154.3L888.2 1162.5" stroke="#d9b495" stroke-width="4"/>
<path d="M888.2 1162.5L909.6 1228.3" stroke="#8a5838" stroke-width="9.6"/><path d="M888.2 1162.5L909.6 1228.3" stroke="#d9b495" stroke-width="4"/>
<path d="M909.6 1228.3L888.2 1294.1" stroke="#8a5838" stroke-width="9.6"/><path d="M909.6 1228.3L888.2 1294.1" stroke="#d9b495" stroke-width="4"/>
<path d="M888.2 1162.5L916.2 1141.5" stroke="#8a5838" stroke-width="9.6"/><path d="M888.2 1162.5L916.2 1141.5" stroke="#d9b495" stroke-width="4"/><path d="M916.2 1141.5L944.2 1120.5" stroke="#a9b6e2" stroke-width="9.6"/><path d="M916.2 1141.5L944.2 1120.5" stroke="#e2e8fa" stroke-width="4"/>
<path d="M888.2 1294.1L916.2 1315.1" stroke="#8a5838" stroke-width="9.6"/><path d="M888.2 1294.1L916.2 1315.1" stroke="#d9b495" stroke-width="4"/><path d="M916.2 1315.1L944.2 1336.1" stroke="#a9b6e2" stroke-width="9.6"/><path d="M916.2 1315.1L944.2 1336.1" stroke="#e2e8fa" stroke-width="4"/>
<path d="M888.2 1294.1L856.2 1302.3" stroke="#8a5838" stroke-width="9.6"/><path d="M888.2 1294.1L856.2 1302.3" stroke="#d9b495" stroke-width="4"/><path d="M856.2 1302.3L824.2 1310.5" stroke="#a9b6e2" stroke-width="9.6"/><path d="M856.2 1302.3L824.2 1310.5" stroke="#e2e8fa" stroke-width="4"/>
<path d="M824.2 1310.5L816 1342.5" stroke="#a9b6e2" stroke-width="9.6"/><path d="M824.2 1310.5L816 1342.5" stroke="#e2e8fa" stroke-width="4"/><path d="M816 1342.5L807.8 1374.5" stroke="#8a5838" stroke-width="9.6"/><path d="M816 1342.5L807.8 1374.5" stroke="#d9b495" stroke-width="4"/>
<path d="M807.8 1374.5L742 1395.9" stroke="#8a5838" stroke-width="9.6"/><path d="M807.8 1374.5L742 1395.9" stroke="#d9b495" stroke-width="4"/>
<path d="M742 1395.9L676.2 1374.5" stroke="#8a5838" stroke-width="9.6"/><path d="M742 1395.9L676.2 1374.5" stroke="#d9b495" stroke-width="4"/>
<path d="M807.8 1374.5L828.8 1402.5" stroke="#8a5838" stroke-width="9.6"/><path d="M807.8 1374.5L828.8 1402.5" stroke="#d9b495" stroke-width="4"/><path d="M828.8 1402.5L849.8 1430.5" stroke="#a9b6e2" stroke-width="9.6"/><path d="M828.8 1402.5L849.8 1430.5" stroke="#e2e8fa" stroke-width="4"/>
<path d="M676.2 1374.5L655.2 1402.5" stroke="#8a5838" stroke-width="9.6"/><path d="M676.2 1374.5L655.2 1402.5" stroke="#d9b495" stroke-width="4"/><path d="M655.2 1402.5L634.2 1430.5" stroke="#a9b6e2" stroke-width="9.6"/><path d="M655.2 1402.5L634.2 1430.5" stroke="#e2e8fa" stroke-width="4"/>
<path d="M676.2 1374.5L668 1342.5" stroke="#8a5838" stroke-width="9.6"/><path d="M676.2 1374.5L668 1342.5" stroke="#d9b495" stroke-width="4"/><path d="M668 1342.5L659.8 1310.5" stroke="#a9b6e2" stroke-width="9.6"/><path d="M668 1342.5L659.8 1310.5" stroke="#e2e8fa" stroke-width="4"/>
<path d="M659.8 1310.5L627.8 1302.3" stroke="#a9b6e2" stroke-width="9.6"/><path d="M659.8 1310.5L627.8 1302.3" stroke="#e2e8fa" stroke-width="4"/><path d="M627.8 1302.3L595.8 1294.1" stroke="#8a5838" stroke-width="9.6"/><path d="M627.8 1302.3L595.8 1294.1" stroke="#d9b495" stroke-width="4"/>
<path d="M595.8 1294.1L574.4 1228.3" stroke="#8a5838" stroke-width="9.6"/><path d="M595.8 1294.1L574.4 1228.3" stroke="#d9b495" stroke-width="4"/>
<path d="M574.4 1228.3L595.8 1162.5" stroke="#8a5838" stroke-width="9.6"/><path d="M574.4 1228.3L595.8 1162.5" stroke="#d9b495" stroke-width="4"/>
<path d="M595.8 1294.1L567.8 1315.1" stroke="#8a5838" stroke-width="9.6"/><path d="M595.8 1294.1L567.8 1315.1" stroke="#d9b495" stroke-width="4"/><path d="M567.8 1315.1L539.8 1336.1" stroke="#a9b6e2" stroke-width="9.6"/><path d="M567.8 1315.1L539.8 1336.1" stroke="#e2e8fa" stroke-width="4"/>
<path d="M595.8 1162.5L567.8 1141.5" stroke="#8a5838" stroke-width="9.6"/><path d="M595.8 1162.5L567.8 1141.5" stroke="#d9b495" stroke-width="4"/><path d="M567.8 1141.5L539.8 1120.5" stroke="#a9b6e2" stroke-width="9.6"/><path d="M567.8 1141.5L539.8 1120.5" stroke="#e2e8fa" stroke-width="4"/>
<path d="M595.8 1162.5L627.8 1154.3" stroke="#8a5838" stroke-width="9.6"/><path d="M595.8 1162.5L627.8 1154.3" stroke="#d9b495" stroke-width="4"/><path d="M627.8 1154.3L659.8 1146.1" stroke="#a9b6e2" stroke-width="9.6"/><path d="M627.8 1154.3L659.8 1146.1" stroke="#e2e8fa" stroke-width="4"/>
<path d="M659.8 1146.1L668 1114.1" stroke="#a9b6e2" stroke-width="9.6"/><path d="M659.8 1146.1L668 1114.1" stroke="#e2e8fa" stroke-width="4"/><path d="M668 1114.1L676.2 1082.1" stroke="#8a5838" stroke-width="9.6"/><path d="M668 1114.1L676.2 1082.1" stroke="#d9b495" stroke-width="4"/>
<path d="M742 1228.3L787.2 1183.1" stroke="#b8820f" stroke-width="9.6"/><path d="M742 1228.3L787.2 1183.1" stroke="#fbe688" stroke-width="4"/><path d="M787.2 1183.1L824.2 1146.1" stroke="#a9b6e2" stroke-width="9.6"/><path d="M787.2 1183.1L824.2 1146.1" stroke="#e2e8fa" stroke-width="4"/>
<path d="M742 1228.3L787.2 1273.5" stroke="#b8820f" stroke-width="9.6"/><path d="M742 1228.3L787.2 1273.5" stroke="#fbe688" stroke-width="4"/><path d="M787.2 1273.5L824.2 1310.5" stroke="#a9b6e2" stroke-width="9.6"/><path d="M787.2 1273.5L824.2 1310.5" stroke="#e2e8fa" stroke-width="4"/>
<path d="M742 1228.3L696.8 1273.5" stroke="#b8820f" stroke-width="9.6"/><path d="M742 1228.3L696.8 1273.5" stroke="#fbe688" stroke-width="4"/><path d="M696.8 1273.5L659.8 1310.5" stroke="#a9b6e2" stroke-width="9.6"/><path d="M696.8 1273.5L659.8 1310.5" stroke="#e2e8fa" stroke-width="4"/>
<path d="M742 1228.3L696.8 1183.1" stroke="#b8820f" stroke-width="9.6"/><path d="M742 1228.3L696.8 1183.1" stroke="#fbe688" stroke-width="4"/><path d="M696.8 1183.1L659.8 1146.1" stroke="#a9b6e2" stroke-width="9.6"/><path d="M696.8 1183.1L659.8 1146.1" stroke="#e2e8fa" stroke-width="4"/>
</g><g>
<circle cx="676.2" cy="1082.1" r="14.6" fill="url(#sC)"/>
<circle cx="742" cy="1060.7" r="14.6" fill="url(#sC)"/>
<circle cx="807.8" cy="1082.1" r="14.6" fill="url(#sC)"/>
<circle cx="634.2" cy="1026.1" r="14.4" fill="url(#sN)"/>
<circle cx="849.8" cy="1026.1" r="14.4" fill="url(#sN)"/>
<circle cx="824.2" cy="1146.1" r="14.4" fill="url(#sN)"/>
<circle cx="888.2" cy="1162.5" r="14.6" fill="url(#sC)"/>
<circle cx="909.6" cy="1228.3" r="14.6" fill="url(#sC)"/>
<circle cx="888.2" cy="1294.1" r="14.6" fill="url(#sC)"/>
<circle cx="944.2" cy="1120.5" r="14.4" fill="url(#sN)"/>
<circle cx="944.2" cy="1336.1" r="14.4" fill="url(#sN)"/>
<circle cx="824.2" cy="1310.5" r="14.4" fill="url(#sN)"/>
<circle cx="807.8" cy="1374.5" r="14.6" fill="url(#sC)"/>
<circle cx="742" cy="1395.9" r="14.6" fill="url(#sC)"/>
<circle cx="676.2" cy="1374.5" r="14.6" fill="url(#sC)"/>
<circle cx="849.8" cy="1430.5" r="14.4" fill="url(#sN)"/>
<circle cx="634.2" cy="1430.5" r="14.4" fill="url(#sN)"/>
<circle cx="659.8" cy="1310.5" r="14.4" fill="url(#sN)"/>
<circle cx="595.8" cy="1294.1" r="14.6" fill="url(#sC)"/>
<circle cx="574.4" cy="1228.3" r="14.6" fill="url(#sC)"/>
<circle cx="595.8" cy="1162.5" r="14.6" fill="url(#sC)"/>
<circle cx="539.8" cy="1336.1" r="14.4" fill="url(#sN)"/>
<circle cx="539.8" cy="1120.5" r="14.4" fill="url(#sN)"/>
<circle cx="659.8" cy="1146.1" r="14.4" fill="url(#sN)"/>
<circle cx="742" cy="1228.3" r="24" fill="url(#sM)"/>
</g>
<text x="69" y="976" font-size="83">(c)</text>
</g>
<g id="pd">
<rect x="1019.8" y="904.1" width="633.7" height="634.2" rx="85.5" ry="85.5" fill="#fff" stroke="#e9eaec" stroke-width="3"/>
<g clip-path="url(#gclip)">
<rect x="1015" y="900" width="645" height="645" fill="#f3f3f4"/>
<rect x="1021.3" y="900" width="202.6" height="645" fill="#dfe9f5"/>
<rect x="1235.6" y="900" width="202.5" height="645" fill="#dfe9f5"/>
<rect x="1449.4" y="900" width="202.6" height="645" fill="#dfe9f5"/>
<rect x="1226.5" y="900" width="6.5" height="645" fill="#fff"/>
<rect x="1440.7" y="900" width="6.1" height="645" fill="#fff"/>
<rect x="1021.3" y="905.6" width="202.6" height="207.3" fill="url(#cell)"/>
<rect x="1021.3" y="1118.3" width="202.6" height="205.7" fill="url(#cell)"/>
<rect x="1021.3" y="1329.8" width="202.6" height="207" fill="url(#cell)"/>
<rect x="1235.6" y="905.6" width="202.5" height="207.3" fill="url(#cell)"/>
<rect x="1235.6" y="1118.3" width="202.5" height="205.7" fill="url(#cell)"/>
<rect x="1235.6" y="1329.8" width="202.5" height="207" fill="url(#cell)"/>
<rect x="1449.4" y="905.6" width="202.6" height="207.3" fill="url(#cell)"/>
<rect x="1449.4" y="1118.3" width="202.6" height="205.7" fill="url(#cell)"/>
<rect x="1449.4" y="1329.8" width="202.6" height="207" fill="url(#cell)"/>
</g>
<g font-size="90">
<text x="1072" y="1022.6">Fe</text>
<text x="1281.3" y="1022.6">Co</text>
<text x="1491.5" y="1022.6">Ni</text>
<text x="1072" y="1241.9">Ru</text>
<text x="1281.3" y="1241.9">Rh</text>
<text x="1491.5" y="1241.9">Pd</text>
<text x="1071.5" y="1461.1">Os</text>
<text x="1304.8" y="1461.1">Ir</text>
<text x="1501.6" y="1461.1">Pt</text>
</g>
<text x="893.8" y="975.5" font-size="83">(d)</text>
</g>
<g id="pe">
<g clip-path="url(#mclip)">
<g filter="url(#jet)">
<rect x="1753.2" y="863.5" width="692.1" height="642.6" fill="#000"/>
<g filter="url(#bl2)">
<rect x="1753.2" y="863.5" width="692.1" height="642.6" fill="#121212"/>
<use href="#edif" x="1640.2" y="762.9"/>
<use href="#edif" x="1640.2" y="1044.2"/>
<use href="#edif" x="1640.2" y="1325.5"/>
<use href="#edif" x="1946.2" y="762.9"/>
<use href="#edif" x="1946.2" y="1044.2"/>
<use href="#edif" x="1946.2" y="1325.5"/>
<use href="#edif" x="2252.3" y="762.9"/>
<use href="#edif" x="2252.3" y="1044.2"/>
<use href="#edif" x="2252.3" y="1325.5"/>
</g>
<use href="#eblobsall"/>
<g mask="url(#emask)"><g filter="url(#bl3)">
<use href="#ecut" x="1640.2" y="762.9"/>
<use href="#ecut" x="1640.2" y="1044.2"/>
<use href="#ecut" x="1640.2" y="1325.5"/>
<use href="#ecut" x="1946.2" y="762.9"/>
<use href="#ecut" x="1946.2" y="1044.2"/>
<use href="#ecut" x="1946.2" y="1325.5"/>
<use href="#ecut" x="2252.3" y="762.9"/>
<use href="#ecut" x="2252.3" y="1044.2"/>
<use href="#ecut" x="2252.3" y="1325.5"/>
</g></g>
<g filter="url(#bl3)">
<use href="#ectr" x="1640.2" y="762.9"/>
<use href="#ectr" x="1640.2" y="1044.2"/>
<use href="#ectr" x="1640.2" y="1325.5"/>
<use href="#ectr" x="1946.2" y="762.9"/>
<use href="#ectr" x="1946.2" y="1044.2"/>
<use href="#ectr" x="1946.2" y="1325.5"/>
<use href="#ectr" x="2252.3" y="762.9"/>
<use href="#ectr" x="2252.3" y="1044.2"/>
<use href="#ectr" x="2252.3" y="1325.5"/>
</g>
</g>
<use href="#eatom" x="1946.2" y="1044.2"/>
<use href="#eatom" x="1946.2" y="1325.5"/>
<use href="#eatom" x="2252.3" y="1044.2"/>
<use href="#eatom" x="2252.3" y="1325.5"/>
<circle cx="1793.2" cy="903.5" r="17.2" fill="url(#sM2)"/>
<circle cx="1793.2" cy="1184.8" r="17.2" fill="url(#sM2)"/>
<circle cx="1793.2" cy="1466.1" r="17.2" fill="url(#sM2)"/>
<circle cx="2099.2" cy="903.5" r="17.2" fill="url(#sM2)"/>
<circle cx="2099.2" cy="1184.8" r="17.2" fill="url(#sM2)"/>
<circle cx="2099.2" cy="1466.1" r="17.2" fill="url(#sM2)"/>
<circle cx="2405.3" cy="903.5" r="17.2" fill="url(#sM2)"/>
<circle cx="2405.3" cy="1184.8" r="17.2" fill="url(#sM2)"/>
<circle cx="2405.3" cy="1466.1" r="17.2" fill="url(#sM2)"/>
</g>
<rect x="1793.2" y="903.5" width="612.1" height="562.6" fill="none" stroke="#d8d8c8" stroke-width="2"/>
<rect x="1793.2" y="903.5" width="612.1" height="562.6" fill="none" stroke="#1a2a1a" stroke-width="2" stroke-dasharray="4.2 3"/>
<rect x="1790" y="1492.7" width="612.4" height="20.4" fill="url(#cbar)"/>
<path d="M1790 1493.2h612.4M1790 1512.6h612.4" stroke="#000" stroke-opacity="0.28" stroke-width="1.2" fill="none"/>
<path d="M1790.6 1513v5.8M1851.8 1513v5.8M1913 1513v5.8M1974.2 1513v5.8M2035.4 1513v5.8M2096.6 1513v5.8M2157.8 1513v5.8M2219 1513v5.8M2280.2 1513v5.8M2341.4 1513v5.8M2402.6 1513v5.8" stroke="#9a9a9a" stroke-width="2" fill="none"/>
<g font-weight="bold" font-size="43">
<text transform="translate(1783.6 1551) scale(1.09 1)">0</text><text transform="translate(2072.6 1551) scale(1.09 1)">0.5</text><text transform="translate(2404.8 1551) scale(1.09 1)" text-anchor="end">1</text>
</g>
<text x="1673.8" y="972" font-size="83">(e)</text>
</g>
<g id="pf">
<rect x="247.8" y="1915" width="97.4" height="478" fill="url(#gt)" stroke="#111" stroke-width="3.8"/>
<rect x="345.2" y="2119.1" width="95.8" height="273.9" fill="url(#gg)" stroke="#111" stroke-width="3.8"/>
<rect x="489.7" y="1909.7" width="97.4" height="483.3" fill="url(#gt)" stroke="#111" stroke-width="3.8"/>
<rect x="587.1" y="2129.6" width="95.8" height="263.4" fill="url(#gg)" stroke="#111" stroke-width="3.8"/>
<rect x="731.6" y="1909.1" width="97.4" height="483.9" fill="url(#gt)" stroke="#111" stroke-width="3.8"/>
<rect x="829" y="2127" width="95.8" height="266" fill="url(#gg)" stroke="#111" stroke-width="3.8"/>
<rect x="973.5" y="1866.4" width="97.4" height="526.6" fill="url(#gt)" stroke="#111" stroke-width="3.8"/>
<rect x="1070.9" y="2064" width="95.8" height="329" fill="url(#gg)" stroke="#111" stroke-width="3.8"/>
<rect x="1215.4" y="1897.2" width="97.4" height="495.8" fill="url(#gt)" stroke="#111" stroke-width="3.8"/>
<rect x="1312.8" y="2098.1" width="95.8" height="294.9" fill="url(#gg)" stroke="#111" stroke-width="3.8"/>
<rect x="1457.3" y="1974.7" width="97.4" height="418.3" fill="url(#gt)" stroke="#111" stroke-width="3.8"/>
<rect x="1554.7" y="2164.4" width="95.8" height="228.6" fill="url(#gg)" stroke="#111" stroke-width="3.8"/>
<rect x="1699.2" y="1835.5" width="97.4" height="557.5" fill="url(#gt)" stroke="#111" stroke-width="3.8"/>
<rect x="1796.6" y="2075.1" width="95.8" height="317.9" fill="url(#gg)" stroke="#111" stroke-width="3.8"/>
<rect x="1941.1" y="1817.8" width="97.4" height="575.2" fill="url(#gt)" stroke="#111" stroke-width="3.8"/>
<rect x="2038.5" y="2059.4" width="95.8" height="333.6" fill="url(#gg)" stroke="#111" stroke-width="3.8"/>
<rect x="2183" y="1871.6" width="97.4" height="521.4" fill="url(#gt)" stroke="#111" stroke-width="3.8"/>
<rect x="2280.4" y="2108.6" width="95.8" height="284.4" fill="url(#gg)" stroke="#111" stroke-width="3.8"/>
<path d="M223.9 2393h-17M223.9 2215.7h-17M223.9 2038.4h-17M223.9 1861h-17M223.9 1683.7h-17M223.9 2304.3h-9.5M223.9 2127h-9.5M223.9 1949.7h-9.5M223.9 1772.4h-9.5" stroke="#000" stroke-width="4.6" fill="none"/>
<rect x="223.9" y="1595" width="2176.6" height="798" fill="none" stroke="#000" stroke-width="5.4"/>
<g font-weight="bold" font-size="77" text-anchor="end">
<text x="196" y="2418.2">0</text>
<text x="196" y="2240.9">4</text>
<text x="196" y="2063.6">8</text>
<text x="196" y="1886.2">12</text>
<text x="196" y="1708.9">16</text>
</g>
<g font-weight="bold" font-size="75" text-anchor="middle">
<text x="362.1" y="2468">Fe</text>
<text x="605.6" y="2468">Co</text>
<text x="844.3" y="2468">Ni</text>
<text x="1089.2" y="2468">Ru</text>
<text x="1333.5" y="2468">Rh</text>
<text x="1566.2" y="2468">Pd</text>
<text x="1812.8" y="2468">Os</text>
<text x="2046.5" y="2468">Ir</text>
<text x="2291" y="2468">Pt</text>
</g>
<text transform="translate(104 2047) rotate(-90)" font-weight="bold" font-size="90" text-anchor="middle">E<tspan font-size="58" dy="22">b</tspan><tspan dy="-22"> (eV)</tspan></text>
<rect x="1802.2" y="1617.9" width="149.9" height="74.3" fill="url(#gt)" stroke="#161616" stroke-width="4"/>
<rect x="1802.2" y="1715.4" width="149.9" height="74.3" fill="url(#gg)" stroke="#161616" stroke-width="4"/>
<text x="1970" y="1676.8" font-weight="bold" font-size="67.5">TM@S-C<tspan font-size="43" dy="17">3</tspan><tspan dy="-17">N</tspan><tspan font-size="43" dy="17">2</tspan></text>
<text x="1970" y="1774.3" font-weight="bold" font-size="67.5">TM@L-C<tspan font-size="43" dy="17">3</tspan><tspan dy="-17">N</tspan><tspan font-size="43" dy="17">2</tspan></text>
<text x="59.6" y="1562.5" font-size="83">(f)</text>
</g>
</svg>
</body></html>
